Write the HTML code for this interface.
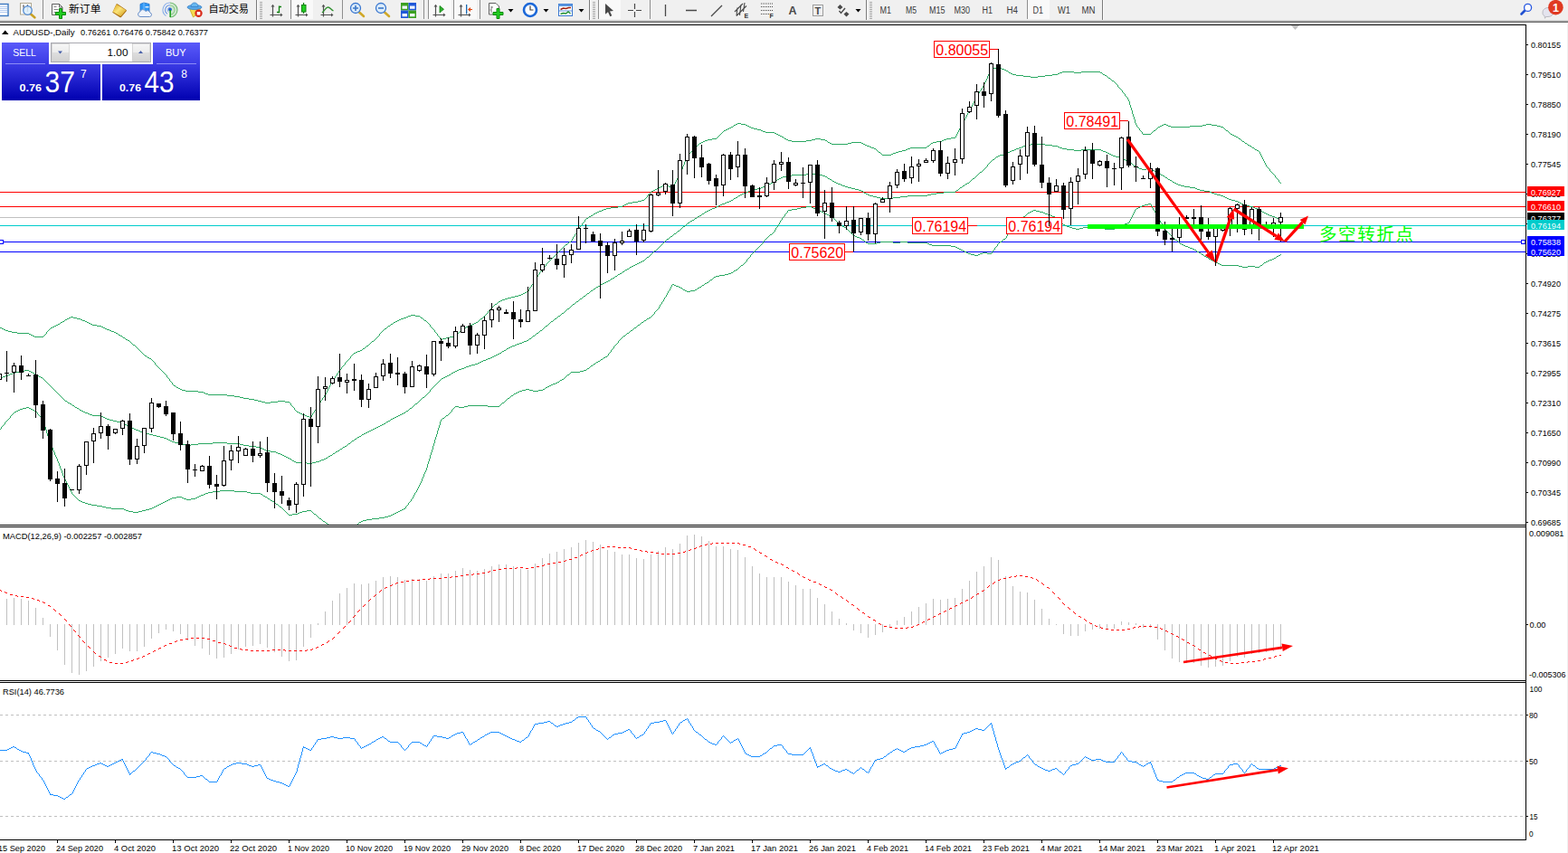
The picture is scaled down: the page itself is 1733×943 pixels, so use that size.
<!DOCTYPE html>
<html><head><meta charset="utf-8"><title>AUDUSD Daily</title>
<style>html,body{margin:0;padding:0;background:#fff;}body{width:1733px;height:943px;overflow:hidden;position:relative;font-family:"Liberation Sans",sans-serif;}</style>
</head><body>
<svg width="1733" height="943" viewBox="0 0 1733 943" style="position:absolute;left:0;top:0;font-family:'Liberation Sans',sans-serif">
<rect x="0" y="0" width="1733" height="943" fill="#fff"/>
<defs><clipPath id="cm"><rect x="0" y="28" width="1686" height="552"/></clipPath><clipPath id="c2"><rect x="0" y="583" width="1686" height="169"/></clipPath><clipPath id="c3"><rect x="0" y="755" width="1686" height="173"/></clipPath></defs>
<g clip-path="url(#cm)" shape-rendering="crispEdges">
<rect x="0" y="212" width="1686" height="1" fill="#ff0000"/>
<rect x="0" y="228" width="1686" height="1" fill="#ff0000"/>
<rect x="0" y="240" width="1686" height="1" fill="#c0c0c0"/>
<rect x="0" y="249" width="1686" height="1" fill="#00cccc"/>
<rect x="0" y="267" width="1686" height="1" fill="#0000ff"/>
<rect x="0" y="278" width="1686" height="1" fill="#0000ff"/>
<path d="M-1 418h2v1h-2zM1 417h2v1h-2zM3 416h3v1h-3zM6 415h3v1h-3zM9 414h2v1h-2zM11 413h3v1h-3zM14 412h3v1h-3zM17 411h4v1h-4zM21 410h6v1h-6zM27 409h5v1h-5zM32 410h2v1h-2zM34 411h2v1h-2zM36 412h2v1h-2zM38 413h2v1h-2zM40 414h2v1h-2zM42 415h1v1h-1zM43 416h2v1h-2zM45 417h2v1h-2zM47 418h1v1h-1zM48 419h1v1h-1zM49 420h1v1h-1zM50 421h1v1h-1zM51 422h1v1h-1zM52 423h1v1h-1zM53 424h1v1h-1zM54 425h1v1h-1zM55 426h1v1h-1zM56 427h1v1h-1zM57 428h1v1h-1zM58 429h1v1h-1zM59 430h1v1h-1zM60 431h1v1h-1zM61 432h1v1h-1zM62 433h1v1h-1zM63 434h1v1h-1zM64 435h1v1h-1zM65 436h1v1h-1zM66 437h1v1h-1zM67 438h1v1h-1zM68 439h1v1h-1zM69 440h1v1h-1zM70 441h1v1h-1zM71 442h1v1h-1zM72 443h2v1h-2zM74 444h1v1h-1zM75 445h2v1h-2zM77 446h2v1h-2zM79 447h1v1h-1zM80 448h2v1h-2zM82 449h1v1h-1zM83 450h2v1h-2zM85 451h2v1h-2zM87 452h1v1h-1zM88 453h2v1h-2zM90 454h2v1h-2zM92 455h2v1h-2zM94 456h3v1h-3zM97 457h2v1h-2zM99 458h3v1h-3zM102 459h10v1h-10zM112 460h2v1h-2zM114 461h2v1h-2zM116 462h2v1h-2zM118 463h3v1h-3zM121 464h4v1h-4zM125 465h4v1h-4zM129 466h4v1h-4zM133 467h3v1h-3zM136 468h2v1h-2zM138 469h2v1h-2zM140 470h2v1h-2zM142 471h2v1h-2zM144 472h2v1h-2zM146 473h2v1h-2zM148 474h2v1h-2zM150 475h3v1h-3zM153 476h2v1h-2zM155 477h3v1h-3zM158 478h3v1h-3zM161 479h4v1h-4zM165 480h4v1h-4zM169 481h4v1h-4zM173 482h4v1h-4zM177 483h4v1h-4zM181 484h3v1h-3zM184 485h2v1h-2zM186 486h2v1h-2zM188 487h2v1h-2zM190 488h3v1h-3zM193 489h4v1h-4zM197 490h4v1h-4zM201 491h4v1h-4zM205 492h6v1h-6zM211 491h8v1h-8zM219 490h16v1h-16zM235 489h16v1h-16zM251 490h14v1h-14zM265 491h4v1h-4zM269 492h6v1h-6zM275 493h8v1h-8zM283 494h5v1h-5zM288 495h2v1h-2zM290 496h2v1h-2zM292 497h2v1h-2zM294 498h5v1h-5zM299 499h6v1h-6zM305 500h2v1h-2zM307 501h3v1h-3zM310 502h2v1h-2zM312 503h2v1h-2zM314 504h2v1h-2zM316 505h2v1h-2zM318 506h2v1h-2zM320 507h2v1h-2zM322 508h1v1h-1zM323 509h2v1h-2zM325 510h2v1h-2zM327 511h12v1h-12zM339 512h6v1h-6zM345 511h4v1h-4zM349 510h4v1h-4zM353 509h2v1h-2zM355 508h3v1h-3zM358 507h2v1h-2zM360 506h2v1h-2zM362 505h1v1h-1zM363 504h2v1h-2zM365 503h2v1h-2zM367 502h1v1h-1zM368 501h2v1h-2zM370 500h1v1h-1zM371 499h2v1h-2zM373 498h2v1h-2zM375 497h1v1h-1zM376 496h2v1h-2zM378 495h1v1h-1zM379 494h2v1h-2zM381 493h2v1h-2zM383 492h1v1h-1zM384 491h1v1h-1zM385 490h2v1h-2zM387 489h1v1h-1zM388 488h1v1h-1zM389 487h2v1h-2zM391 486h1v1h-1zM392 485h2v1h-2zM394 484h1v1h-1zM395 483h2v1h-2zM397 482h2v1h-2zM399 481h1v1h-1zM400 480h2v1h-2zM402 479h2v1h-2zM404 478h2v1h-2zM406 477h2v1h-2zM408 476h2v1h-2zM410 475h2v1h-2zM412 474h2v1h-2zM414 473h2v1h-2zM416 472h2v1h-2zM418 471h2v1h-2zM420 470h2v1h-2zM422 469h2v1h-2zM424 468h2v1h-2zM426 467h1v1h-1zM427 466h2v1h-2zM429 465h2v1h-2zM431 464h1v1h-1zM432 463h2v1h-2zM434 462h2v1h-2zM436 461h2v1h-2zM438 460h2v1h-2zM440 459h2v1h-2zM442 458h2v1h-2zM444 457h2v1h-2zM446 456h2v1h-2zM448 455h1v1h-1zM449 454h2v1h-2zM451 453h1v1h-1zM452 452h1v1h-1zM453 451h2v1h-2zM455 450h1v1h-1zM456 449h1v1h-1zM457 448h1v1h-1zM458 447h1v1h-1zM459 446h2v1h-2zM461 445h1v1h-1zM462 444h1v1h-1zM463 443h1v1h-1zM464 442h1v1h-1zM465 441h1v1h-1zM466 440h1v1h-1zM467 439h2v1h-2zM469 438h1v1h-1zM470 437h1v1h-1zM471 436h1v1h-1zM472 435h1v1h-1zM473 434h1v1h-1zM474 433h1v1h-1zM475 431h1v2h-1zM476 430h1v1h-1zM477 429h1v1h-1zM478 428h1v1h-1zM479 427h1v1h-1zM480 426h1v1h-1zM481 425h1v1h-1zM482 424h1v1h-1zM483 423h1v1h-1zM484 422h1v1h-1zM485 421h1v1h-1zM486 420h1v1h-1zM487 419h1v1h-1zM488 418h2v1h-2zM490 417h2v1h-2zM492 416h2v1h-2zM494 415h2v1h-2zM496 414h2v1h-2zM498 413h1v1h-1zM499 412h2v1h-2zM501 411h2v1h-2zM503 410h2v1h-2zM505 409h2v1h-2zM507 408h3v1h-3zM510 407h3v1h-3zM513 406h2v1h-2zM515 405h3v1h-3zM518 404h3v1h-3zM521 403h4v1h-4zM525 402h3v1h-3zM528 401h2v1h-2zM530 400h2v1h-2zM532 399h2v1h-2zM534 398h3v1h-3zM537 397h2v1h-2zM539 396h3v1h-3zM542 395h2v1h-2zM544 394h2v1h-2zM546 393h2v1h-2zM548 392h2v1h-2zM550 391h2v1h-2zM552 390h2v1h-2zM554 389h1v1h-1zM555 388h2v1h-2zM557 387h2v1h-2zM559 386h1v1h-1zM560 385h2v1h-2zM562 384h2v1h-2zM564 383h2v1h-2zM566 382h3v1h-3zM569 381h2v1h-2zM571 380h3v1h-3zM574 379h3v1h-3zM577 378h2v1h-2zM579 377h3v1h-3zM582 376h2v1h-2zM584 375h1v1h-1zM585 374h2v1h-2zM587 373h1v1h-1zM588 372h1v1h-1zM589 371h2v1h-2zM591 370h1v1h-1zM592 369h1v1h-1zM593 368h2v1h-2zM595 367h1v1h-1zM596 366h1v1h-1zM597 365h2v1h-2zM599 364h1v1h-1zM600 363h1v1h-1zM601 362h1v1h-1zM602 361h1v1h-1zM603 360h2v1h-2zM605 359h1v1h-1zM606 358h1v1h-1zM607 357h1v1h-1zM608 356h1v1h-1zM609 355h2v1h-2zM611 354h1v1h-1zM612 353h1v1h-1zM613 352h2v1h-2zM615 351h1v1h-1zM616 350h1v1h-1zM617 349h2v1h-2zM619 348h1v1h-1zM620 347h1v1h-1zM621 346h2v1h-2zM623 345h1v1h-1zM624 344h1v1h-1zM625 343h1v1h-1zM626 342h1v1h-1zM627 341h2v1h-2zM629 340h1v1h-1zM630 339h1v1h-1zM631 338h1v1h-1zM632 337h1v1h-1zM633 336h2v1h-2zM635 335h1v1h-1zM636 334h1v1h-1zM637 333h2v1h-2zM639 332h1v1h-1zM640 331h1v1h-1zM641 330h2v1h-2zM643 329h1v1h-1zM644 328h1v1h-1zM645 327h2v1h-2zM647 326h1v1h-1zM648 325h1v1h-1zM649 324h2v1h-2zM651 323h1v1h-1zM652 322h1v1h-1zM653 321h2v1h-2zM655 320h1v1h-1zM656 319h2v1h-2zM658 318h1v1h-1zM659 317h2v1h-2zM661 316h2v1h-2zM663 315h1v1h-1zM664 314h2v1h-2zM666 313h2v1h-2zM668 312h2v1h-2zM670 311h2v1h-2zM672 310h2v1h-2zM674 309h1v1h-1zM675 308h2v1h-2zM677 307h2v1h-2zM679 306h1v1h-1zM680 305h2v1h-2zM682 304h1v1h-1zM683 303h2v1h-2zM685 302h2v1h-2zM687 301h1v1h-1zM688 300h2v1h-2zM690 299h1v1h-1zM691 298h2v1h-2zM693 297h2v1h-2zM695 296h1v1h-1zM696 295h2v1h-2zM698 294h2v1h-2zM700 293h2v1h-2zM702 292h2v1h-2zM704 291h2v1h-2zM706 290h2v1h-2zM708 289h2v1h-2zM710 288h2v1h-2zM712 287h1v1h-1zM713 286h1v1h-1zM714 285h1v1h-1zM715 284h2v1h-2zM717 283h1v1h-1zM718 282h1v1h-1zM719 281h1v1h-1zM720 280h1v1h-1zM721 279h1v1h-1zM722 278h1v1h-1zM723 277h2v1h-2zM725 276h1v1h-1zM726 275h1v1h-1zM727 274h1v1h-1zM728 273h1v1h-1zM729 272h1v1h-1zM730 271h1v1h-1zM731 270h1v1h-1zM732 269h1v1h-1zM733 268h1v1h-1zM734 267h1v1h-1zM735 266h1v1h-1zM736 265h1v1h-1zM737 264h2v1h-2zM739 263h1v1h-1zM740 262h1v1h-1zM741 261h2v1h-2zM743 260h1v1h-1zM744 259h1v1h-1zM745 258h2v1h-2zM747 257h1v1h-1zM748 256h1v1h-1zM749 255h2v1h-2zM751 254h1v1h-1zM752 253h1v1h-1zM753 252h1v1h-1zM754 251h1v1h-1zM755 250h2v1h-2zM757 249h1v1h-1zM758 248h1v1h-1zM759 247h1v1h-1zM760 246h2v1h-2zM762 245h1v1h-1zM763 244h2v1h-2zM765 243h2v1h-2zM767 242h1v1h-1zM768 241h2v1h-2zM770 240h1v1h-1zM771 239h2v1h-2zM773 238h2v1h-2zM775 237h1v1h-1zM776 236h2v1h-2zM778 235h1v1h-1zM779 234h2v1h-2zM781 233h2v1h-2zM783 232h2v1h-2zM785 231h2v1h-2zM787 230h3v1h-3zM790 229h2v1h-2zM792 228h2v1h-2zM794 227h2v1h-2zM796 226h2v1h-2zM798 225h3v1h-3zM801 224h2v1h-2zM803 223h3v1h-3zM806 222h2v1h-2zM808 221h2v1h-2zM810 220h1v1h-1zM811 219h2v1h-2zM813 218h2v1h-2zM815 217h1v1h-1zM816 216h2v1h-2zM818 215h2v1h-2zM820 214h2v1h-2zM822 213h3v1h-3zM825 212h2v1h-2zM827 211h3v1h-3zM830 210h3v1h-3zM833 209h4v1h-4zM837 208h4v1h-4zM841 207h2v1h-2zM843 206h3v1h-3zM846 205h2v1h-2zM848 204h2v1h-2zM850 203h2v1h-2zM852 202h2v1h-2zM854 201h2v1h-2zM856 200h2v1h-2zM858 199h1v1h-1zM859 198h2v1h-2zM861 197h2v1h-2zM863 196h2v1h-2zM865 195h4v1h-4zM869 194h6v1h-6zM875 193h16v1h-16zM891 192h14v1h-14zM905 193h4v1h-4zM909 194h3v1h-3zM912 195h2v1h-2zM914 196h1v1h-1zM915 197h2v1h-2zM917 198h2v1h-2zM919 199h1v1h-1zM920 200h2v1h-2zM922 201h2v1h-2zM924 202h2v1h-2zM926 203h3v1h-3zM929 204h2v1h-2zM931 205h3v1h-3zM934 206h3v1h-3zM937 207h4v1h-4zM941 208h4v1h-4zM945 209h4v1h-4zM949 210h3v1h-3zM952 211h2v1h-2zM954 212h1v1h-1zM955 213h2v1h-2zM957 214h2v1h-2zM959 215h2v1h-2zM961 216h4v1h-4zM965 217h4v1h-4zM969 218h4v1h-4zM973 219h14v1h-14zM987 218h8v1h-8zM995 217h8v1h-8zM1003 216h22v1h-22zM1025 215h4v1h-4zM1029 214h6v1h-6zM1035 213h8v1h-8zM1043 212h13v1h-13zM1056 211h1v1h-1zM1057 210h2v1h-2zM1059 209h1v1h-1zM1060 208h1v1h-1zM1061 207h2v1h-2zM1063 206h1v1h-1zM1064 205h2v1h-2zM1066 204h1v1h-1zM1067 203h2v1h-2zM1069 202h2v1h-2zM1071 201h1v1h-1zM1072 200h1v1h-1zM1073 199h1v1h-1zM1074 198h1v1h-1zM1075 197h2v1h-2zM1077 196h1v1h-1zM1078 195h1v1h-1zM1079 194h1v1h-1zM1080 193h1v1h-1zM1081 192h1v1h-1zM1082 191h1v1h-1zM1083 190h2v1h-2zM1085 189h1v1h-1zM1086 188h1v1h-1zM1087 187h1v1h-1zM1088 186h1v1h-1zM1089 185h1v1h-1zM1090 184h1v1h-1zM1091 182h1v2h-1zM1092 181h1v1h-1zM1093 180h1v1h-1zM1094 179h1v1h-1zM1095 178h1v1h-1zM1096 177h1v1h-1zM1097 176h2v1h-2zM1099 175h1v1h-1zM1100 174h1v1h-1zM1101 173h2v1h-2zM1103 172h2v1h-2zM1105 171h4v1h-4zM1109 170h3v1h-3zM1112 169h2v1h-2zM1114 168h2v1h-2zM1116 167h2v1h-2zM1118 166h3v1h-3zM1121 165h2v1h-2zM1123 164h3v1h-3zM1126 163h3v1h-3zM1129 162h2v1h-2zM1131 161h3v1h-3zM1134 160h5v1h-5zM1139 159h16v1h-16zM1155 160h8v1h-8zM1163 161h6v1h-6zM1169 162h2v1h-2zM1171 163h3v1h-3zM1174 164h5v1h-5zM1179 165h8v1h-8zM1187 166h8v1h-8zM1195 165h22v1h-22zM1217 166h2v1h-2zM1219 167h3v1h-3zM1222 168h2v1h-2zM1224 169h2v1h-2zM1226 170h2v1h-2zM1228 171h2v1h-2zM1230 172h3v1h-3zM1233 173h4v1h-4zM1237 174h3v1h-3zM1240 175h2v1h-2zM1242 176h2v1h-2zM1244 177h2v1h-2zM1246 178h2v1h-2zM1248 179h1v1h-1zM1249 180h2v1h-2zM1251 181h1v1h-1zM1252 182h1v1h-1zM1253 183h2v1h-2zM1255 184h2v1h-2zM1257 185h2v1h-2zM1259 186h3v1h-3zM1262 187h5v1h-5zM1267 186h5v1h-5zM1272 187h2v1h-2zM1274 188h2v1h-2zM1276 189h2v1h-2zM1278 190h2v1h-2zM1280 191h2v1h-2zM1282 192h1v1h-1zM1283 193h2v1h-2zM1285 194h2v1h-2zM1287 195h1v1h-1zM1288 196h2v1h-2zM1290 197h1v1h-1zM1291 198h2v1h-2zM1293 199h2v1h-2zM1295 200h1v1h-1zM1296 201h2v1h-2zM1298 202h2v1h-2zM1300 203h2v1h-2zM1302 204h3v1h-3zM1305 205h4v1h-4zM1309 206h6v1h-6zM1315 207h6v1h-6zM1321 208h2v1h-2zM1323 209h3v1h-3zM1326 210h5v1h-5zM1331 211h6v1h-6zM1337 212h2v1h-2zM1339 213h3v1h-3zM1342 214h3v1h-3zM1345 215h4v1h-4zM1349 216h3v1h-3zM1352 217h2v1h-2zM1354 218h2v1h-2zM1356 219h2v1h-2zM1358 220h3v1h-3zM1361 221h4v1h-4zM1365 222h3v1h-3zM1368 223h2v1h-2zM1370 224h2v1h-2zM1372 225h2v1h-2zM1374 226h3v1h-3zM1377 227h4v1h-4zM1381 228h4v1h-4zM1385 229h2v1h-2zM1387 230h3v1h-3zM1390 231h2v1h-2zM1392 232h2v1h-2zM1394 233h1v1h-1zM1395 234h2v1h-2zM1397 235h2v1h-2zM1399 236h2v1h-2zM1401 237h2v1h-2zM1403 238h3v1h-3zM1406 239h3v1h-3zM1409 240h2v1h-2zM1411 241h3v1h-3zM1414 242h2v1h-2z" fill="#2aa862"/>
<path d="M-1 361h1v1h-1zM0 362h2v1h-2zM2 363h2v1h-2zM4 364h2v1h-2zM6 365h3v1h-3zM9 366h4v1h-4zM13 367h6v1h-6zM19 368h13v1h-13zM32 369h2v1h-2zM34 370h2v1h-2zM36 371h2v1h-2zM38 372h10v1h-10zM48 371h1v1h-1zM49 370h1v1h-1zM50 369h1v1h-1zM51 367h1v2h-1zM52 366h1v1h-1zM53 365h1v1h-1zM54 364h1v1h-1zM55 363h1v1h-1zM56 362h2v1h-2zM58 361h2v1h-2zM60 360h2v1h-2zM62 359h2v1h-2zM64 358h2v1h-2zM66 357h1v1h-1zM67 356h2v1h-2zM69 355h2v1h-2zM71 354h1v1h-1zM72 353h2v1h-2zM74 352h2v1h-2zM76 351h2v1h-2zM78 350h3v1h-3zM81 351h4v1h-4zM85 352h4v1h-4zM89 353h2v1h-2zM91 354h3v1h-3zM94 355h2v1h-2zM96 356h2v1h-2zM98 357h2v1h-2zM100 358h2v1h-2zM102 359h5v1h-5zM107 360h5v1h-5zM112 361h2v1h-2zM114 362h2v1h-2zM116 363h2v1h-2zM118 364h3v1h-3zM121 365h2v1h-2zM123 366h3v1h-3zM126 367h2v1h-2zM128 368h2v1h-2zM130 369h1v1h-1zM131 370h2v1h-2zM133 371h2v1h-2zM135 372h1v1h-1zM136 373h2v1h-2zM138 374h1v1h-1zM139 375h2v1h-2zM141 376h2v1h-2zM143 377h1v1h-1zM144 378h1v1h-1zM145 379h1v1h-1zM146 380h1v1h-1zM147 381h2v1h-2zM149 382h1v1h-1zM150 383h1v1h-1zM151 384h1v1h-1zM152 385h1v1h-1zM153 386h1v1h-1zM154 387h1v1h-1zM155 388h1v1h-1zM156 389h1v1h-1zM157 390h1v1h-1zM158 391h1v1h-1zM159 392h1v1h-1zM160 393h2v1h-2zM162 394h1v1h-1zM163 395h2v1h-2zM165 396h2v1h-2zM167 397h1v1h-1zM168 398h1v1h-1zM169 399h1v1h-1zM170 400h1v1h-1zM171 401h1v2h-1zM172 403h1v1h-1zM173 404h1v1h-1zM174 405h1v1h-1zM175 406h1v1h-1zM176 407h1v1h-1zM177 408h1v1h-1zM178 409h1v1h-1zM179 410h1v1h-1zM180 411h1v1h-1zM181 412h1v1h-1zM182 413h1v1h-1zM183 414h1v1h-1zM184 415h1v2h-1zM185 417h1v1h-1zM186 418h1v1h-1zM187 419h1v2h-1zM188 421h1v1h-1zM189 422h1v1h-1zM190 423h1v2h-1zM191 425h1v1h-1zM192 426h2v1h-2zM194 427h1v1h-1zM195 428h2v1h-2zM197 429h2v1h-2zM199 430h2v1h-2zM201 431h4v1h-4zM205 432h14v1h-14zM219 433h6v1h-6zM225 434h2v1h-2zM227 435h3v1h-3zM230 436h21v1h-21zM251 437h8v1h-8zM259 438h6v1h-6zM265 439h4v1h-4zM269 440h6v1h-6zM275 441h6v1h-6zM281 442h4v1h-4zM285 443h4v1h-4zM289 444h4v1h-4zM293 445h6v1h-6zM299 444h8v1h-8zM307 443h8v1h-8zM315 444h5v1h-5zM320 445h1v1h-1zM321 446h1v2h-1zM322 448h1v1h-1zM323 449h1v1h-1zM324 450h1v1h-1zM325 451h1v2h-1zM326 453h1v1h-1zM327 454h1v1h-1zM328 455h2v1h-2zM330 456h2v1h-2zM332 457h2v1h-2zM334 458h3v1h-3zM337 459h2v1h-2zM339 460h3v1h-3zM342 461h2v1h-2zM344 459h1v2h-1zM345 457h1v2h-1zM346 456h1v1h-1zM347 454h1v2h-1zM348 453h1v1h-1zM349 451h1v2h-1zM350 449h1v2h-1zM351 448h1v1h-1zM352 446h1v2h-1zM353 445h1v1h-1zM354 443h1v2h-1zM355 442h1v1h-1zM356 440h1v2h-1zM357 439h1v1h-1zM358 437h1v2h-1zM359 436h1v1h-1zM360 434h1v2h-1zM361 432h1v2h-1zM362 430h1v2h-1zM363 428h1v2h-1zM364 426h1v2h-1zM365 424h1v2h-1zM366 422h1v2h-1zM367 421h1v1h-1zM368 419h1v2h-1zM369 418h1v1h-1zM370 416h1v2h-1zM371 415h1v1h-1zM372 413h1v2h-1zM373 412h1v1h-1zM374 410h1v2h-1zM375 409h1v1h-1zM376 408h1v1h-1zM377 406h1v2h-1zM378 405h1v1h-1zM379 404h1v1h-1zM380 403h1v1h-1zM381 401h1v2h-1zM382 400h1v1h-1zM383 399h1v1h-1zM384 398h1v1h-1zM385 397h1v1h-1zM386 396h1v1h-1zM387 394h1v2h-1zM388 393h1v1h-1zM389 392h1v1h-1zM390 391h1v1h-1zM391 390h2v1h-2zM393 389h2v1h-2zM395 388h3v1h-3zM398 387h2v1h-2zM400 386h1v1h-1zM401 385h2v1h-2zM403 384h1v1h-1zM404 383h1v1h-1zM405 382h2v1h-2zM407 381h1v1h-1zM408 380h1v1h-1zM409 379h1v1h-1zM410 378h1v1h-1zM411 377h2v1h-2zM413 376h1v1h-1zM414 375h1v1h-1zM415 374h1v1h-1zM416 373h1v1h-1zM417 372h1v1h-1zM418 371h1v1h-1zM419 369h1v2h-1zM420 368h1v1h-1zM421 367h1v1h-1zM422 366h1v1h-1zM423 365h1v1h-1zM424 364h1v1h-1zM425 363h2v1h-2zM427 362h1v1h-1zM428 361h1v1h-1zM429 360h2v1h-2zM431 359h1v1h-1zM432 358h2v1h-2zM434 357h1v1h-1zM435 356h2v1h-2zM437 355h2v1h-2zM439 354h2v1h-2zM441 353h2v1h-2zM443 352h3v1h-3zM446 351h3v1h-3zM449 350h2v1h-2zM451 349h3v1h-3zM454 348h5v1h-5zM459 349h5v1h-5zM464 350h1v1h-1zM465 351h2v1h-2zM467 352h1v1h-1zM468 353h1v1h-1zM469 354h2v1h-2zM471 355h1v1h-1zM472 356h1v1h-1zM473 357h1v1h-1zM474 358h1v1h-1zM475 359h1v2h-1zM476 361h1v1h-1zM477 362h1v1h-1zM478 363h1v1h-1zM479 364h1v1h-1zM480 365h1v2h-1zM481 367h1v1h-1zM482 368h1v1h-1zM483 369h1v2h-1zM484 371h1v1h-1zM485 372h1v1h-1zM486 373h1v2h-1zM487 375h2v1h-2zM489 374h4v1h-4zM493 373h4v1h-4zM497 372h4v1h-4zM501 371h3v1h-3zM504 370h1v1h-1zM505 369h1v1h-1zM506 368h1v1h-1zM507 367h1v1h-1zM508 366h1v1h-1zM509 365h1v1h-1zM510 364h1v1h-1zM511 363h2v1h-2zM513 362h2v1h-2zM515 361h3v1h-3zM518 360h2v1h-2zM520 359h2v1h-2zM522 358h2v1h-2zM524 357h2v1h-2zM526 356h2v1h-2zM528 355h1v1h-1zM529 354h1v1h-1zM530 353h1v1h-1zM531 352h2v1h-2zM533 351h1v1h-1zM534 350h1v1h-1zM535 349h1v1h-1zM536 348h1v1h-1zM537 347h1v1h-1zM538 346h1v1h-1zM539 344h1v2h-1zM540 343h1v1h-1zM541 342h1v1h-1zM542 341h1v1h-1zM543 340h1v1h-1zM544 339h1v1h-1zM545 338h1v1h-1zM546 337h1v1h-1zM547 336h2v1h-2zM549 335h1v1h-1zM550 334h1v1h-1zM551 333h2v1h-2zM553 332h2v1h-2zM555 331h3v1h-3zM558 330h3v1h-3zM561 329h4v1h-4zM565 328h4v1h-4zM569 327h4v1h-4zM573 326h3v1h-3zM576 325h2v1h-2zM578 324h2v1h-2zM580 323h2v1h-2zM582 322h2v1h-2zM584 320h1v2h-1zM585 318h1v2h-1zM586 317h1v1h-1zM587 315h1v2h-1zM588 314h1v1h-1zM589 312h1v2h-1zM590 310h1v2h-1zM591 309h1v1h-1zM592 307h1v2h-1zM593 306h1v1h-1zM594 304h1v2h-1zM595 303h1v1h-1zM596 301h1v2h-1zM597 300h1v1h-1zM598 298h1v2h-1zM599 297h1v1h-1zM600 296h1v1h-1zM601 295h1v1h-1zM602 294h1v1h-1zM603 292h1v2h-1zM604 291h1v1h-1zM605 290h1v1h-1zM606 289h1v1h-1zM607 288h1v1h-1zM608 287h1v1h-1zM609 286h1v1h-1zM610 285h1v1h-1zM611 284h1v1h-1zM612 283h1v1h-1zM613 282h1v1h-1zM614 281h1v1h-1zM615 280h1v1h-1zM616 279h1v1h-1zM617 278h1v1h-1zM618 277h1v1h-1zM619 276h1v1h-1zM620 275h1v1h-1zM621 274h1v1h-1zM622 273h1v1h-1zM623 272h1v1h-1zM624 271h1v1h-1zM625 270h2v1h-2zM627 269h1v1h-1zM628 268h1v1h-1zM629 267h2v1h-2zM631 266h1v1h-1zM632 264h1v2h-1zM633 262h1v2h-1zM634 261h1v1h-1zM635 259h1v2h-1zM636 258h1v1h-1zM637 256h1v2h-1zM638 254h1v2h-1zM639 253h1v1h-1zM640 251h1v2h-1zM641 250h1v1h-1zM642 249h1v1h-1zM643 247h1v2h-1zM644 246h1v1h-1zM645 245h1v1h-1zM646 243h1v2h-1zM647 242h1v1h-1zM648 241h2v1h-2zM650 240h1v1h-1zM651 239h2v1h-2zM653 238h2v1h-2zM655 237h1v1h-1zM656 236h2v1h-2zM658 235h2v1h-2zM660 234h2v1h-2zM662 233h3v1h-3zM665 232h2v1h-2zM667 231h3v1h-3zM670 230h5v1h-5zM675 229h8v1h-8zM683 228h5v1h-5zM688 227h2v1h-2zM690 226h2v1h-2zM692 225h2v1h-2zM694 224h5v1h-5zM699 223h6v1h-6zM705 222h4v1h-4zM709 221h3v1h-3zM712 220h1v1h-1zM713 219h1v1h-1zM714 218h1v1h-1zM715 216h1v2h-1zM716 215h1v1h-1zM717 214h1v1h-1zM718 213h1v1h-1zM719 212h1v1h-1zM720 211h2v1h-2zM722 210h2v1h-2zM724 209h2v1h-2zM726 208h2v1h-2zM728 207h2v1h-2zM730 206h2v1h-2zM732 205h2v1h-2zM734 204h3v1h-3zM737 205h2v1h-2zM739 206h3v1h-3zM742 207h2v1h-2zM744 205h1v2h-1zM745 203h1v2h-1zM746 201h1v2h-1zM747 199h1v2h-1zM748 197h1v2h-1zM749 195h1v2h-1zM750 193h1v2h-1zM751 191h1v2h-1zM752 189h1v2h-1zM753 187h1v2h-1zM754 184h1v3h-1zM755 182h1v2h-1zM756 179h1v3h-1zM757 177h1v2h-1zM758 175h1v2h-1zM759 173h1v2h-1zM760 172h1v1h-1zM761 170h1v2h-1zM762 169h1v1h-1zM763 168h1v1h-1zM764 167h1v1h-1zM765 165h1v2h-1zM766 164h1v1h-1zM767 163h1v1h-1zM768 162h1v1h-1zM769 161h2v1h-2zM771 160h1v1h-1zM772 159h1v1h-1zM773 158h2v1h-2zM775 157h2v1h-2zM777 156h2v1h-2zM779 155h3v1h-3zM782 154h5v1h-5zM787 153h5v1h-5zM792 152h1v1h-1zM793 151h1v1h-1zM794 150h1v1h-1zM795 149h1v1h-1zM796 148h1v1h-1zM797 147h1v1h-1zM798 146h1v1h-1zM799 145h1v1h-1zM800 144h2v1h-2zM802 143h2v1h-2zM804 142h2v1h-2zM806 141h2v1h-2zM808 140h2v1h-2zM810 139h1v1h-1zM811 138h2v1h-2zM813 137h2v1h-2zM815 136h4v1h-4zM819 137h5v1h-5zM824 138h2v1h-2zM826 139h2v1h-2zM828 140h2v1h-2zM830 141h3v1h-3zM833 142h4v1h-4zM837 143h4v1h-4zM841 144h2v1h-2zM843 145h3v1h-3zM846 146h10v1h-10zM856 147h2v1h-2zM858 148h2v1h-2zM860 149h2v1h-2zM862 150h2v1h-2zM864 151h2v1h-2zM866 152h1v1h-1zM867 153h2v1h-2zM869 154h2v1h-2zM871 155h4v1h-4zM875 156h16v1h-16zM891 155h6v1h-6zM897 154h4v1h-4zM901 153h6v1h-6zM907 154h5v1h-5zM912 155h2v1h-2zM914 156h1v1h-1zM915 157h2v1h-2zM917 158h2v1h-2zM919 159h18v1h-18zM937 158h4v1h-4zM941 157h11v1h-11zM952 158h2v1h-2zM954 159h2v1h-2zM956 160h2v1h-2zM958 161h3v1h-3zM961 162h2v1h-2zM963 163h3v1h-3zM966 164h2v1h-2zM968 165h1v1h-1zM969 166h1v1h-1zM970 167h1v1h-1zM971 168h2v1h-2zM973 169h1v1h-1zM974 170h1v1h-1zM975 171h10v1h-10zM985 170h2v1h-2zM987 169h3v1h-3zM990 168h3v1h-3zM993 167h4v1h-4zM997 166h4v1h-4zM1001 165h2v1h-2zM1003 164h3v1h-3zM1006 163h18v1h-18zM1024 162h1v1h-1zM1025 161h2v1h-2zM1027 160h1v1h-1zM1028 159h1v1h-1zM1029 158h2v1h-2zM1031 157h4v1h-4zM1035 156h6v1h-6zM1041 155h2v1h-2zM1043 154h3v1h-3zM1046 153h5v1h-5zM1051 152h5v1h-5zM1056 150h1v2h-1zM1057 148h1v2h-1zM1058 146h1v2h-1zM1059 144h1v2h-1zM1060 142h1v2h-1zM1061 140h1v2h-1zM1062 138h1v2h-1zM1063 137h1v1h-1zM1064 135h1v2h-1zM1065 133h1v2h-1zM1066 131h1v2h-1zM1067 129h1v2h-1zM1068 127h1v2h-1zM1069 125h1v2h-1zM1070 123h1v2h-1zM1071 122h1v1h-1zM1072 120h1v2h-1zM1073 118h1v2h-1zM1074 116h1v2h-1zM1075 114h1v2h-1zM1076 112h1v2h-1zM1077 110h1v2h-1zM1078 108h1v2h-1zM1079 106h1v2h-1zM1080 104h1v2h-1zM1081 103h1v1h-1zM1082 101h1v2h-1zM1083 100h1v1h-1zM1084 98h1v2h-1zM1085 97h1v1h-1zM1086 95h1v2h-1zM1087 93h1v2h-1zM1088 91h1v2h-1zM1089 89h1v2h-1zM1090 87h1v2h-1zM1091 84h1v3h-1zM1092 82h1v2h-1zM1093 80h1v2h-1zM1094 78h1v2h-1zM1095 76h1v2h-1zM1096 76h1v1h-1zM1097 75h4v1h-4zM1101 74h4v1h-4zM1105 75h2v1h-2zM1107 76h3v1h-3zM1110 77h2v1h-2zM1112 78h2v1h-2zM1114 79h1v1h-1zM1115 80h2v1h-2zM1117 81h2v1h-2zM1119 82h4v1h-4zM1123 83h8v1h-8zM1131 84h8v1h-8zM1139 85h8v1h-8zM1147 84h8v1h-8zM1155 83h8v1h-8zM1163 82h6v1h-6zM1169 81h2v1h-2zM1171 80h3v1h-3zM1174 79h13v1h-13zM1187 80h8v1h-8zM1195 79h21v1h-21zM1216 80h2v1h-2zM1218 81h1v1h-1zM1219 82h2v1h-2zM1221 83h2v1h-2zM1223 84h1v1h-1zM1224 85h1v1h-1zM1225 86h2v1h-2zM1227 87h1v1h-1zM1228 88h1v1h-1zM1229 89h2v1h-2zM1231 90h1v1h-1zM1232 91h1v1h-1zM1233 92h1v1h-1zM1234 93h1v1h-1zM1235 94h1v2h-1zM1236 96h1v1h-1zM1237 97h1v1h-1zM1238 98h1v1h-1zM1239 99h1v1h-1zM1240 100h1v2h-1zM1241 102h1v1h-1zM1242 103h1v1h-1zM1243 104h1v2h-1zM1244 106h1v1h-1zM1245 107h1v1h-1zM1246 108h1v2h-1zM1247 110h1v2h-1zM1248 112h1v4h-1zM1249 116h1v3h-1zM1250 119h1v3h-1zM1251 122h1v4h-1zM1252 126h1v3h-1zM1253 129h1v3h-1zM1254 132h1v4h-1zM1255 136h1v2h-1zM1256 138h1v2h-1zM1257 140h1v1h-1zM1258 141h1v1h-1zM1259 142h1v2h-1zM1260 144h1v1h-1zM1261 145h1v1h-1zM1262 146h1v2h-1zM1263 148h9v1h-9zM1272 147h1v1h-1zM1273 146h1v1h-1zM1274 145h1v1h-1zM1275 144h2v1h-2zM1277 143h1v1h-1zM1278 142h1v1h-1zM1279 141h1v1h-1zM1280 140h2v1h-2zM1282 139h2v1h-2zM1284 138h2v1h-2zM1286 137h3v1h-3zM1289 138h2v1h-2zM1291 139h3v1h-3zM1294 140h21v1h-21zM1315 139h14v1h-14zM1329 138h4v1h-4zM1333 137h6v1h-6zM1339 138h6v1h-6zM1345 139h4v1h-4zM1349 140h3v1h-3zM1352 141h1v1h-1zM1353 142h1v1h-1zM1354 143h1v1h-1zM1355 144h2v1h-2zM1357 145h1v1h-1zM1358 146h1v1h-1zM1359 147h1v1h-1zM1360 148h2v1h-2zM1362 149h2v1h-2zM1364 150h2v1h-2zM1366 151h2v1h-2zM1368 152h1v1h-1zM1369 153h2v1h-2zM1371 154h1v1h-1zM1372 155h1v1h-1zM1373 156h2v1h-2zM1375 157h1v1h-1zM1376 158h2v1h-2zM1378 159h1v1h-1zM1379 160h2v1h-2zM1381 161h2v1h-2zM1383 162h1v1h-1zM1384 163h2v1h-2zM1386 164h1v1h-1zM1387 165h2v1h-2zM1389 166h2v1h-2zM1391 167h1v1h-1zM1392 168h1v2h-1zM1393 170h1v2h-1zM1394 172h1v2h-1zM1395 174h1v2h-1zM1396 176h1v2h-1zM1397 178h1v2h-1zM1398 180h1v2h-1zM1399 182h1v2h-1zM1400 184h1v1h-1zM1401 185h1v1h-1zM1402 186h1v1h-1zM1403 187h1v2h-1zM1404 189h1v1h-1zM1405 190h1v1h-1zM1406 191h1v1h-1zM1407 192h1v1h-1zM1408 193h1v1h-1zM1409 194h1v2h-1zM1410 196h1v1h-1zM1411 197h1v1h-1zM1412 198h1v1h-1zM1413 199h1v2h-1zM1414 201h1v1h-1zM1415 202h1v1h-1z" fill="#2aa862"/>
<path d="M-1 475h1v1h-1zM0 474h1v1h-1zM1 472h1v2h-1zM2 471h1v1h-1zM3 470h1v1h-1zM4 469h1v1h-1zM5 467h1v2h-1zM6 466h1v1h-1zM7 465h1v1h-1zM8 464h1v1h-1zM9 463h1v1h-1zM10 462h1v1h-1zM11 460h1v2h-1zM12 459h1v1h-1zM13 458h1v1h-1zM14 457h1v1h-1zM15 456h1v1h-1zM16 455h2v1h-2zM18 454h2v1h-2zM20 453h2v1h-2zM22 452h3v1h-3zM25 451h4v1h-4zM29 450h3v1h-3zM32 451h2v1h-2zM34 452h2v1h-2zM36 453h2v1h-2zM38 454h2v1h-2zM40 455h1v1h-1zM41 456h1v2h-1zM42 458h1v1h-1zM43 459h1v1h-1zM44 460h1v1h-1zM45 461h1v2h-1zM46 463h1v1h-1zM47 464h1v2h-1zM48 466h1v3h-1zM49 469h1v3h-1zM50 472h1v3h-1zM51 475h1v4h-1zM52 479h1v3h-1zM53 482h1v3h-1zM54 485h1v3h-1zM55 488h1v3h-1zM56 491h1v2h-1zM57 493h1v2h-1zM58 495h1v3h-1zM59 498h1v2h-1zM60 500h1v3h-1zM61 503h1v2h-1zM62 505h1v2h-1zM63 507h1v3h-1zM64 510h1v2h-1zM65 512h1v3h-1zM66 515h1v3h-1zM67 518h1v2h-1zM68 520h1v3h-1zM69 523h1v3h-1zM70 526h1v2h-1zM71 528h1v2h-1zM72 530h1v2h-1zM73 532h1v2h-1zM74 534h1v2h-1zM75 536h1v2h-1zM76 538h1v2h-1zM77 540h1v2h-1zM78 542h1v2h-1zM79 544h1v2h-1zM80 546h1v1h-1zM81 547h1v1h-1zM82 548h1v1h-1zM83 549h1v1h-1zM84 550h1v1h-1zM85 551h1v1h-1zM86 552h1v1h-1zM87 553h2v1h-2zM89 554h2v1h-2zM91 555h3v1h-3zM94 556h3v1h-3zM97 557h4v1h-4zM101 558h6v1h-6zM107 559h6v1h-6zM113 560h4v1h-4zM117 561h6v1h-6zM123 562h14v1h-14zM137 563h2v1h-2zM139 564h3v1h-3zM142 565h5v1h-5zM147 566h6v1h-6zM153 565h4v1h-4zM157 564h4v1h-4zM161 563h4v1h-4zM165 562h3v1h-3zM168 561h2v1h-2zM170 560h2v1h-2zM172 559h2v1h-2zM174 558h2v1h-2zM176 557h2v1h-2zM178 556h2v1h-2zM180 555h2v1h-2zM182 554h2v1h-2zM184 553h2v1h-2zM186 552h2v1h-2zM188 551h2v1h-2zM190 550h5v1h-5zM195 549h6v1h-6zM201 550h2v1h-2zM203 551h3v1h-3zM206 552h5v1h-5zM211 551h5v1h-5zM216 550h2v1h-2zM218 549h2v1h-2zM220 548h2v1h-2zM222 547h3v1h-3zM225 546h2v1h-2zM227 545h3v1h-3zM230 544h5v1h-5zM235 543h8v1h-8zM243 542h16v1h-16zM259 543h14v1h-14zM273 544h4v1h-4zM277 545h11v1h-11zM288 546h2v1h-2zM290 547h1v1h-1zM291 548h2v1h-2zM293 549h2v1h-2zM295 550h1v1h-1zM296 551h2v1h-2zM298 552h1v1h-1zM299 553h2v1h-2zM301 554h2v1h-2zM303 555h1v1h-1zM304 556h1v1h-1zM305 557h2v1h-2zM307 558h1v1h-1zM308 559h1v1h-1zM309 560h2v1h-2zM311 561h1v1h-1zM312 562h1v1h-1zM313 563h1v1h-1zM314 564h1v1h-1zM315 565h1v1h-1zM316 566h1v1h-1zM317 567h1v1h-1zM318 568h1v1h-1zM319 569h4v1h-4zM323 568h6v1h-6zM329 567h2v1h-2zM331 566h3v1h-3zM334 565h5v1h-5zM339 564h5v1h-5zM344 565h1v1h-1zM345 566h1v1h-1zM346 567h1v1h-1zM347 568h2v1h-2zM349 569h1v1h-1zM350 570h1v1h-1zM351 571h1v1h-1zM352 572h1v1h-1zM353 573h2v1h-2zM355 574h1v1h-1zM356 575h1v1h-1zM357 576h2v1h-2zM359 577h1v1h-1zM360 578h2v1h-2zM362 579h1v1h-1zM363 580h2v1h-2zM365 581h2v1h-2zM367 582h2v1h-2zM369 583h4v1h-4zM373 584h6v1h-6zM379 585h6v1h-6zM385 584h2v1h-2zM387 583h3v1h-3zM390 582h2v1h-2zM392 581h1v1h-1zM393 580h2v1h-2zM395 579h1v1h-1zM396 578h1v1h-1zM397 577h2v1h-2zM399 576h2v1h-2zM401 575h4v1h-4zM405 574h6v1h-6zM411 573h8v1h-8zM419 572h6v1h-6zM425 571h4v1h-4zM429 570h3v1h-3zM432 569h2v1h-2zM434 568h2v1h-2zM436 567h2v1h-2zM438 566h2v1h-2zM440 565h2v1h-2zM442 564h2v1h-2zM444 563h2v1h-2zM446 562h2v1h-2zM448 560h1v2h-1zM449 559h1v1h-1zM450 558h1v1h-1zM451 556h1v2h-1zM452 555h1v1h-1zM453 554h1v1h-1zM454 552h1v2h-1zM455 551h1v1h-1zM456 549h1v2h-1zM457 547h1v2h-1zM458 545h1v2h-1zM459 544h1v1h-1zM460 542h1v2h-1zM461 540h1v2h-1zM462 538h1v2h-1zM463 536h1v2h-1zM464 534h1v2h-1zM465 532h1v2h-1zM466 529h1v3h-1zM467 527h1v2h-1zM468 524h1v3h-1zM469 522h1v2h-1zM470 520h1v2h-1zM471 517h1v3h-1zM472 513h1v4h-1zM473 510h1v3h-1zM474 507h1v3h-1zM475 503h1v4h-1zM476 500h1v3h-1zM477 497h1v3h-1zM478 493h1v4h-1zM479 490h1v3h-1zM480 486h1v4h-1zM481 483h1v3h-1zM482 480h1v3h-1zM483 476h1v4h-1zM484 473h1v3h-1zM485 470h1v3h-1zM486 466h1v4h-1zM487 464h1v2h-1zM488 463h1v1h-1zM489 462h2v1h-2zM491 461h1v1h-1zM492 460h1v1h-1zM493 459h2v1h-2zM495 458h1v1h-1zM496 457h1v1h-1zM497 456h1v1h-1zM498 455h1v1h-1zM499 453h1v2h-1zM500 452h1v1h-1zM501 451h1v1h-1zM502 450h1v1h-1zM503 449h4v1h-4zM507 450h6v1h-6zM513 449h4v1h-4zM517 448h22v1h-22zM539 449h13v1h-13zM552 448h1v1h-1zM553 447h1v1h-1zM554 446h1v1h-1zM555 445h2v1h-2zM557 444h1v1h-1zM558 443h1v1h-1zM559 442h1v1h-1zM560 441h1v1h-1zM561 440h2v1h-2zM563 439h1v1h-1zM564 438h1v1h-1zM565 437h2v1h-2zM567 436h1v1h-1zM568 435h2v1h-2zM570 434h2v1h-2zM572 433h2v1h-2zM574 432h3v1h-3zM577 431h4v1h-4zM581 430h4v1h-4zM585 431h4v1h-4zM589 432h6v1h-6zM595 431h5v1h-5zM600 430h2v1h-2zM602 429h1v1h-1zM603 428h2v1h-2zM605 427h2v1h-2zM607 426h2v1h-2zM609 425h2v1h-2zM611 424h3v1h-3zM614 423h2v1h-2zM616 422h2v1h-2zM618 421h1v1h-1zM619 420h2v1h-2zM621 419h2v1h-2zM623 418h1v1h-1zM624 417h1v1h-1zM625 416h1v1h-1zM626 415h1v1h-1zM627 414h2v1h-2zM629 413h1v1h-1zM630 412h1v1h-1zM631 411h10v1h-10zM641 410h4v1h-4zM645 409h3v1h-3zM648 408h1v1h-1zM649 407h2v1h-2zM651 406h1v1h-1zM652 405h1v1h-1zM653 404h2v1h-2zM655 403h1v1h-1zM656 402h2v1h-2zM658 401h1v1h-1zM659 400h2v1h-2zM661 399h2v1h-2zM663 398h1v1h-1zM664 397h2v1h-2zM666 396h1v1h-1zM667 395h2v1h-2zM669 394h2v1h-2zM671 393h1v1h-1zM672 391h1v2h-1zM673 390h1v1h-1zM674 389h1v1h-1zM675 387h1v2h-1zM676 386h1v1h-1zM677 385h1v1h-1zM678 383h1v2h-1zM679 382h1v1h-1zM680 381h1v1h-1zM681 380h1v1h-1zM682 379h1v1h-1zM683 377h1v2h-1zM684 376h1v1h-1zM685 375h1v1h-1zM686 374h1v1h-1zM687 373h1v1h-1zM688 372h1v1h-1zM689 371h2v1h-2zM691 370h1v1h-1zM692 369h1v1h-1zM693 368h2v1h-2zM695 367h1v1h-1zM696 366h1v1h-1zM697 365h2v1h-2zM699 364h1v1h-1zM700 363h1v1h-1zM701 362h2v1h-2zM703 361h1v1h-1zM704 360h1v1h-1zM705 359h2v1h-2zM707 358h1v1h-1zM708 357h1v1h-1zM709 356h2v1h-2zM711 355h1v1h-1zM712 354h2v1h-2zM714 353h1v1h-1zM715 352h2v1h-2zM717 351h2v1h-2zM719 350h1v1h-1zM720 349h1v1h-1zM721 348h1v1h-1zM722 347h1v1h-1zM723 345h1v2h-1zM724 344h1v1h-1zM725 343h1v1h-1zM726 342h1v1h-1zM727 341h1v1h-1zM728 339h1v2h-1zM729 337h1v2h-1zM730 336h1v1h-1zM731 334h1v2h-1zM732 333h1v1h-1zM733 331h1v2h-1zM734 329h1v2h-1zM735 328h1v1h-1zM736 326h1v2h-1zM737 324h1v2h-1zM738 322h1v2h-1zM739 321h1v1h-1zM740 319h1v2h-1zM741 317h1v2h-1zM742 315h1v2h-1zM743 314h2v1h-2zM745 315h2v1h-2zM747 316h3v1h-3zM750 317h2v1h-2zM752 318h2v1h-2zM754 319h1v1h-1zM755 320h2v1h-2zM757 321h2v1h-2zM759 322h4v1h-4zM763 321h5v1h-5zM768 320h2v1h-2zM770 319h1v1h-1zM771 318h2v1h-2zM773 317h2v1h-2zM775 316h1v1h-1zM776 315h2v1h-2zM778 314h1v1h-1zM779 313h2v1h-2zM781 312h2v1h-2zM783 311h1v1h-1zM784 310h1v1h-1zM785 309h2v1h-2zM787 308h1v1h-1zM788 307h1v1h-1zM789 306h2v1h-2zM791 305h4v1h-4zM795 304h6v1h-6zM801 303h4v1h-4zM805 302h3v1h-3zM808 301h2v1h-2zM810 300h1v1h-1zM811 299h2v1h-2zM813 298h2v1h-2zM815 297h1v1h-1zM816 296h1v1h-1zM817 295h1v1h-1zM818 294h1v1h-1zM819 293h2v1h-2zM821 292h1v1h-1zM822 291h1v1h-1zM823 290h1v1h-1zM824 289h1v1h-1zM825 287h1v2h-1zM826 286h1v1h-1zM827 285h1v1h-1zM828 284h1v1h-1zM829 282h1v2h-1zM830 281h1v1h-1zM831 280h1v1h-1zM832 279h1v1h-1zM833 278h1v1h-1zM834 277h1v1h-1zM835 276h1v1h-1zM836 275h1v1h-1zM837 274h1v1h-1zM838 273h1v1h-1zM839 272h1v1h-1zM840 271h1v1h-1zM841 270h1v1h-1zM842 269h1v1h-1zM843 267h1v2h-1zM844 266h1v1h-1zM845 265h1v1h-1zM846 264h1v1h-1zM847 263h1v1h-1zM848 262h1v1h-1zM849 261h1v1h-1zM850 260h1v1h-1zM851 259h2v1h-2zM853 258h1v1h-1zM854 257h1v1h-1zM855 256h1v1h-1zM856 254h1v2h-1zM857 252h1v2h-1zM858 251h1v1h-1zM859 249h1v2h-1zM860 248h1v1h-1zM861 246h1v2h-1zM862 244h1v2h-1zM863 243h1v1h-1zM864 241h1v2h-1zM865 240h1v1h-1zM866 239h1v1h-1zM867 237h1v2h-1zM868 236h1v1h-1zM869 235h1v1h-1zM870 233h1v2h-1zM871 232h4v1h-4zM875 231h6v1h-6zM881 230h4v1h-4zM885 229h6v1h-6zM891 228h6v1h-6zM897 229h2v1h-2zM899 230h3v1h-3zM902 231h2v1h-2zM904 232h2v1h-2zM906 233h2v1h-2zM908 234h2v1h-2zM910 235h2v1h-2zM912 236h2v1h-2zM914 237h2v1h-2zM916 238h2v1h-2zM918 239h2v1h-2zM920 240h1v1h-1zM921 241h1v1h-1zM922 242h1v1h-1zM923 243h1v1h-1zM924 244h1v1h-1zM925 245h1v1h-1zM926 246h1v1h-1zM927 247h1v1h-1zM928 248h2v1h-2zM930 249h1v1h-1zM931 250h2v1h-2zM933 251h2v1h-2zM935 252h1v1h-1zM936 253h1v1h-1zM937 254h1v1h-1zM938 255h1v1h-1zM939 256h1v1h-1zM940 257h1v1h-1zM941 258h1v1h-1zM942 259h1v1h-1zM943 260h2v1h-2zM945 261h2v1h-2zM947 262h3v1h-3zM950 263h2v1h-2zM952 264h1v1h-1zM953 265h2v1h-2zM955 266h1v1h-1zM956 267h1v1h-1zM957 268h2v1h-2zM959 269h10v1h-10zM969 268h4v1h-4zM973 267h14v1h-14zM987 268h8v1h-8zM995 267h8v1h-8zM1003 268h22v1h-22zM1025 269h2v1h-2zM1027 270h3v1h-3zM1030 271h21v1h-21zM1051 272h5v1h-5zM1056 273h2v1h-2zM1058 274h2v1h-2zM1060 275h2v1h-2zM1062 276h2v1h-2zM1064 277h2v1h-2zM1066 278h2v1h-2zM1068 279h2v1h-2zM1070 280h3v1h-3zM1073 281h4v1h-4zM1077 282h4v1h-4zM1081 281h2v1h-2zM1083 280h3v1h-3zM1086 279h5v1h-5zM1091 280h5v1h-5zM1096 278h1v2h-1zM1097 277h1v1h-1zM1098 276h1v1h-1zM1099 274h1v2h-1zM1100 273h1v1h-1zM1101 272h1v1h-1zM1102 270h1v2h-1zM1103 269h1v1h-1zM1104 268h1v1h-1zM1105 267h2v1h-2zM1107 266h1v1h-1zM1108 265h1v1h-1zM1109 264h2v1h-2zM1111 263h1v1h-1zM1112 261h1v2h-1zM1113 259h1v2h-1zM1114 258h1v1h-1zM1115 256h1v2h-1zM1116 255h1v1h-1zM1117 253h1v2h-1zM1118 251h1v2h-1zM1119 250h1v1h-1zM1120 249h1v1h-1zM1121 248h1v1h-1zM1122 247h1v1h-1zM1123 246h2v1h-2zM1125 245h1v1h-1zM1126 244h1v1h-1zM1127 243h1v1h-1zM1128 242h1v1h-1zM1129 241h1v1h-1zM1130 240h1v1h-1zM1131 239h2v1h-2zM1133 238h1v1h-1zM1134 237h1v1h-1zM1135 236h1v1h-1zM1136 235h2v1h-2zM1138 234h2v1h-2zM1140 233h2v1h-2zM1142 232h3v1h-3zM1145 233h4v1h-4zM1149 234h4v1h-4zM1153 235h2v1h-2zM1155 236h3v1h-3zM1158 237h3v1h-3zM1161 238h2v1h-2zM1163 239h3v1h-3zM1166 240h2v1h-2zM1168 241h1v1h-1zM1169 242h1v1h-1zM1170 243h1v1h-1zM1171 244h1v1h-1zM1172 245h1v1h-1zM1173 246h1v1h-1zM1174 247h1v1h-1zM1175 248h2v1h-2zM1177 249h2v1h-2zM1179 250h3v1h-3zM1182 251h3v1h-3zM1185 252h4v1h-4zM1189 253h4v1h-4zM1193 252h4v1h-4zM1197 251h20v1h-20zM1217 252h4v1h-4zM1221 253h11v1h-11zM1232 252h2v1h-2zM1234 251h2v1h-2zM1236 250h2v1h-2zM1238 249h3v1h-3zM1241 248h2v1h-2zM1243 247h3v1h-3zM1246 246h2v1h-2zM1248 244h1v2h-1zM1249 242h1v2h-1zM1250 240h1v2h-1zM1251 238h1v2h-1zM1252 236h1v2h-1zM1253 234h1v2h-1zM1254 232h1v2h-1zM1255 231h1v1h-1zM1256 230h2v1h-2zM1258 229h2v1h-2zM1260 228h2v1h-2zM1262 227h3v1h-3zM1265 226h4v1h-4zM1269 225h3v1h-3zM1272 226h1v2h-1zM1273 228h1v2h-1zM1274 230h1v2h-1zM1275 232h1v1h-1zM1276 233h1v2h-1zM1277 235h1v2h-1zM1278 237h1v2h-1zM1279 239h1v1h-1zM1280 240h1v2h-1zM1281 242h1v2h-1zM1282 244h1v2h-1zM1283 246h1v1h-1zM1284 247h1v2h-1zM1285 249h1v2h-1zM1286 251h1v2h-1zM1287 253h1v1h-1zM1288 254h1v1h-1zM1289 255h1v1h-1zM1290 256h1v1h-1zM1291 257h1v1h-1zM1292 258h1v1h-1zM1293 259h1v1h-1zM1294 260h1v1h-1zM1295 261h1v1h-1zM1296 262h1v1h-1zM1297 263h1v1h-1zM1298 264h1v1h-1zM1299 265h2v1h-2zM1301 266h1v1h-1zM1302 267h1v1h-1zM1303 268h1v1h-1zM1304 269h2v1h-2zM1306 270h2v1h-2zM1308 271h2v1h-2zM1310 272h3v1h-3zM1313 273h2v1h-2zM1315 274h3v1h-3zM1318 275h2v1h-2zM1320 276h2v1h-2zM1322 277h1v1h-1zM1323 278h2v1h-2zM1325 279h2v1h-2zM1327 280h1v1h-1zM1328 281h2v1h-2zM1330 282h1v1h-1zM1331 283h2v1h-2zM1333 284h2v1h-2zM1335 285h1v1h-1zM1336 286h2v1h-2zM1338 287h2v1h-2zM1340 288h2v1h-2zM1342 289h2v1h-2zM1344 290h2v1h-2zM1346 291h2v1h-2zM1348 292h2v1h-2zM1350 293h19v1h-19zM1369 294h4v1h-4zM1373 295h6v1h-6zM1379 294h8v1h-8zM1387 295h5v1h-5zM1392 294h1v1h-1zM1393 293h2v1h-2zM1395 292h1v1h-1zM1396 291h1v1h-1zM1397 290h2v1h-2zM1399 289h2v1h-2zM1401 288h2v1h-2zM1403 287h3v1h-3zM1406 286h2v1h-2zM1408 285h2v1h-2zM1410 284h1v1h-1zM1411 283h2v1h-2zM1413 282h2v1h-2zM1415 281h1v1h-1z" fill="#2aa862"/>
</g><g clip-path="url(#cm)">
<rect x="1032.5" y="45.5" width="61" height="18" fill="#fff" stroke="#ff0000" stroke-width="1" shape-rendering="crispEdges"/>
<text x="1034.3" y="61.4" font-size="17.2" fill="#ff0000" textLength="57.8" lengthAdjust="spacingAndGlyphs">0.80055</text>
<rect shape-rendering="crispEdges" x="1094" y="54" width="9" height="1" fill="#f00" shape-rendering="crispEdges"/>
<rect x="1176.5" y="124.5" width="61" height="18" fill="#fff" stroke="#ff0000" stroke-width="1" shape-rendering="crispEdges"/>
<text x="1178.3" y="140.4" font-size="17.2" fill="#ff0000" textLength="57.8" lengthAdjust="spacingAndGlyphs">0.78491</text>
<rect shape-rendering="crispEdges" x="1238" y="133" width="9" height="1" fill="#f00" shape-rendering="crispEdges"/>
<rect x="872.5" y="269.5" width="61" height="18" fill="#fff" stroke="#ff0000" stroke-width="1" shape-rendering="crispEdges"/>
<text x="874.3" y="285.4" font-size="17.2" fill="#ff0000" textLength="57.8" lengthAdjust="spacingAndGlyphs">0.75620</text>
<rect shape-rendering="crispEdges" x="934" y="278" width="9" height="1" fill="#f00" shape-rendering="crispEdges"/>
<rect x="1008.5" y="240.5" width="61" height="18" fill="#fff" stroke="#ff0000" stroke-width="1" shape-rendering="crispEdges"/>
<text x="1010.3" y="256.4" font-size="17.2" fill="#ff0000" textLength="57.8" lengthAdjust="spacingAndGlyphs">0.76194</text>
<rect shape-rendering="crispEdges" x="1070" y="249" width="10" height="1" fill="#f00" shape-rendering="crispEdges"/>
<rect x="1112.5" y="240.5" width="61" height="18" fill="#fff" stroke="#ff0000" stroke-width="1" shape-rendering="crispEdges"/>
<text x="1114.3" y="256.4" font-size="17.2" fill="#ff0000" textLength="57.8" lengthAdjust="spacingAndGlyphs">0.76194</text>
</g><g clip-path="url(#cm)" shape-rendering="crispEdges">
<rect x="-1" y="413" width="1" height="7" fill="#000"/>
<rect x="-3" y="413" width="5" height="7" fill="#000"/>
<rect x="-2" y="414" width="3" height="5" fill="#fff"/>
<rect x="7" y="388" width="1" height="34" fill="#000"/>
<rect x="5" y="412" width="5" height="1" fill="#000"/>
<rect x="15" y="401" width="1" height="33" fill="#000"/>
<rect x="13" y="404" width="5" height="8" fill="#000"/>
<rect x="14" y="405" width="3" height="6" fill="#fff"/>
<rect x="23" y="393" width="1" height="27" fill="#000"/>
<rect x="21" y="404" width="5" height="8" fill="#000"/>
<rect x="31" y="413" width="1" height="3" fill="#000"/>
<rect x="29" y="415" width="5" height="1" fill="#000"/>
<rect x="39" y="398" width="1" height="64" fill="#000"/>
<rect x="37" y="414" width="5" height="34" fill="#000"/>
<rect x="47" y="443" width="1" height="42" fill="#000"/>
<rect x="45" y="447" width="5" height="29" fill="#000"/>
<rect x="55" y="474" width="1" height="58" fill="#000"/>
<rect x="53" y="475" width="5" height="55" fill="#000"/>
<rect x="63" y="521" width="1" height="34" fill="#000"/>
<rect x="61" y="529" width="5" height="6" fill="#000"/>
<rect x="71" y="518" width="1" height="42" fill="#000"/>
<rect x="69" y="534" width="5" height="17" fill="#000"/>
<rect x="79" y="541" width="1" height="1" fill="#000"/>
<rect x="77" y="541" width="5" height="1" fill="#000"/>
<rect x="87" y="513" width="1" height="33" fill="#000"/>
<rect x="85" y="515" width="5" height="27" fill="#000"/>
<rect x="86" y="516" width="3" height="25" fill="#fff"/>
<rect x="95" y="488" width="1" height="37" fill="#000"/>
<rect x="93" y="488" width="5" height="27" fill="#000"/>
<rect x="94" y="489" width="3" height="25" fill="#fff"/>
<rect x="103" y="473" width="1" height="39" fill="#000"/>
<rect x="101" y="479" width="5" height="9" fill="#000"/>
<rect x="102" y="480" width="3" height="7" fill="#fff"/>
<rect x="111" y="456" width="1" height="29" fill="#000"/>
<rect x="109" y="471" width="5" height="8" fill="#000"/>
<rect x="110" y="472" width="3" height="6" fill="#fff"/>
<rect x="119" y="469" width="1" height="28" fill="#000"/>
<rect x="117" y="471" width="5" height="11" fill="#000"/>
<rect x="127" y="474" width="1" height="6" fill="#000"/>
<rect x="125" y="474" width="5" height="5" fill="#000"/>
<rect x="126" y="475" width="3" height="3" fill="#fff"/>
<rect x="135" y="464" width="1" height="17" fill="#000"/>
<rect x="133" y="465" width="5" height="9" fill="#000"/>
<rect x="134" y="466" width="3" height="7" fill="#fff"/>
<rect x="143" y="457" width="1" height="57" fill="#000"/>
<rect x="141" y="465" width="5" height="43" fill="#000"/>
<rect x="151" y="485" width="1" height="28" fill="#000"/>
<rect x="149" y="493" width="5" height="15" fill="#000"/>
<rect x="150" y="494" width="3" height="13" fill="#fff"/>
<rect x="159" y="473" width="1" height="28" fill="#000"/>
<rect x="157" y="473" width="5" height="20" fill="#000"/>
<rect x="158" y="474" width="3" height="18" fill="#fff"/>
<rect x="167" y="440" width="1" height="38" fill="#000"/>
<rect x="165" y="445" width="5" height="29" fill="#000"/>
<rect x="166" y="446" width="3" height="27" fill="#fff"/>
<rect x="175" y="446" width="1" height="5" fill="#000"/>
<rect x="173" y="446" width="5" height="4" fill="#000"/>
<rect x="183" y="443" width="1" height="17" fill="#000"/>
<rect x="181" y="449" width="5" height="9" fill="#000"/>
<rect x="191" y="456" width="1" height="31" fill="#000"/>
<rect x="189" y="456" width="5" height="24" fill="#000"/>
<rect x="199" y="466" width="1" height="32" fill="#000"/>
<rect x="197" y="479" width="5" height="13" fill="#000"/>
<rect x="207" y="487" width="1" height="47" fill="#000"/>
<rect x="205" y="491" width="5" height="28" fill="#000"/>
<rect x="215" y="513" width="1" height="14" fill="#000"/>
<rect x="213" y="519" width="5" height="1" fill="#000"/>
<rect x="223" y="514" width="1" height="7" fill="#000"/>
<rect x="221" y="515" width="5" height="6" fill="#000"/>
<rect x="222" y="516" width="3" height="4" fill="#fff"/>
<rect x="231" y="504" width="1" height="36" fill="#000"/>
<rect x="229" y="515" width="5" height="21" fill="#000"/>
<rect x="239" y="525" width="1" height="27" fill="#000"/>
<rect x="237" y="535" width="5" height="3" fill="#000"/>
<rect x="247" y="493" width="1" height="45" fill="#000"/>
<rect x="245" y="509" width="5" height="28" fill="#000"/>
<rect x="246" y="510" width="3" height="26" fill="#fff"/>
<rect x="255" y="492" width="1" height="28" fill="#000"/>
<rect x="253" y="498" width="5" height="11" fill="#000"/>
<rect x="254" y="499" width="3" height="9" fill="#fff"/>
<rect x="263" y="482" width="1" height="30" fill="#000"/>
<rect x="261" y="494" width="5" height="5" fill="#000"/>
<rect x="262" y="495" width="3" height="3" fill="#fff"/>
<rect x="271" y="495" width="1" height="9" fill="#000"/>
<rect x="269" y="496" width="5" height="8" fill="#000"/>
<rect x="270" y="497" width="3" height="6" fill="#fff"/>
<rect x="279" y="488" width="1" height="23" fill="#000"/>
<rect x="277" y="496" width="5" height="8" fill="#000"/>
<rect x="287" y="488" width="1" height="18" fill="#000"/>
<rect x="285" y="501" width="5" height="3" fill="#000"/>
<rect x="286" y="502" width="3" height="1" fill="#fff"/>
<rect x="295" y="483" width="1" height="61" fill="#000"/>
<rect x="293" y="500" width="5" height="34" fill="#000"/>
<rect x="303" y="523" width="1" height="39" fill="#000"/>
<rect x="301" y="534" width="5" height="10" fill="#000"/>
<rect x="311" y="526" width="1" height="31" fill="#000"/>
<rect x="309" y="543" width="5" height="5" fill="#000"/>
<rect x="319" y="550" width="1" height="14" fill="#000"/>
<rect x="317" y="553" width="5" height="6" fill="#000"/>
<rect x="327" y="533" width="1" height="34" fill="#000"/>
<rect x="325" y="535" width="5" height="23" fill="#000"/>
<rect x="326" y="536" width="3" height="21" fill="#fff"/>
<rect x="335" y="457" width="1" height="92" fill="#000"/>
<rect x="333" y="463" width="5" height="73" fill="#000"/>
<rect x="334" y="464" width="3" height="71" fill="#fff"/>
<rect x="343" y="450" width="1" height="88" fill="#000"/>
<rect x="341" y="463" width="5" height="9" fill="#000"/>
<rect x="351" y="416" width="1" height="74" fill="#000"/>
<rect x="349" y="430" width="5" height="42" fill="#000"/>
<rect x="350" y="431" width="3" height="40" fill="#fff"/>
<rect x="359" y="417" width="1" height="26" fill="#000"/>
<rect x="357" y="427" width="5" height="3" fill="#000"/>
<rect x="358" y="428" width="3" height="1" fill="#fff"/>
<rect x="367" y="416" width="1" height="9" fill="#000"/>
<rect x="365" y="418" width="5" height="6" fill="#000"/>
<rect x="366" y="419" width="3" height="4" fill="#fff"/>
<rect x="375" y="391" width="1" height="37" fill="#000"/>
<rect x="373" y="417" width="5" height="5" fill="#000"/>
<rect x="383" y="413" width="1" height="22" fill="#000"/>
<rect x="381" y="420" width="5" height="3" fill="#000"/>
<rect x="382" y="421" width="3" height="1" fill="#fff"/>
<rect x="391" y="402" width="1" height="30" fill="#000"/>
<rect x="389" y="419" width="5" height="2" fill="#000"/>
<rect x="399" y="414" width="1" height="36" fill="#000"/>
<rect x="397" y="420" width="5" height="22" fill="#000"/>
<rect x="407" y="424" width="1" height="27" fill="#000"/>
<rect x="405" y="430" width="5" height="12" fill="#000"/>
<rect x="406" y="431" width="3" height="10" fill="#fff"/>
<rect x="415" y="412" width="1" height="17" fill="#000"/>
<rect x="413" y="416" width="5" height="13" fill="#000"/>
<rect x="414" y="417" width="3" height="11" fill="#fff"/>
<rect x="423" y="397" width="1" height="24" fill="#000"/>
<rect x="421" y="402" width="5" height="14" fill="#000"/>
<rect x="422" y="403" width="3" height="12" fill="#fff"/>
<rect x="431" y="391" width="1" height="27" fill="#000"/>
<rect x="429" y="401" width="5" height="12" fill="#000"/>
<rect x="439" y="395" width="1" height="31" fill="#000"/>
<rect x="437" y="412" width="5" height="2" fill="#000"/>
<rect x="447" y="411" width="1" height="24" fill="#000"/>
<rect x="445" y="413" width="5" height="15" fill="#000"/>
<rect x="455" y="399" width="1" height="29" fill="#000"/>
<rect x="453" y="405" width="5" height="23" fill="#000"/>
<rect x="454" y="406" width="3" height="21" fill="#fff"/>
<rect x="463" y="403" width="1" height="8" fill="#000"/>
<rect x="461" y="404" width="5" height="6" fill="#000"/>
<rect x="462" y="405" width="3" height="4" fill="#fff"/>
<rect x="471" y="392" width="1" height="37" fill="#000"/>
<rect x="469" y="405" width="5" height="9" fill="#000"/>
<rect x="479" y="377" width="1" height="39" fill="#000"/>
<rect x="477" y="377" width="5" height="37" fill="#000"/>
<rect x="478" y="378" width="3" height="35" fill="#fff"/>
<rect x="487" y="374" width="1" height="25" fill="#000"/>
<rect x="485" y="377" width="5" height="3" fill="#000"/>
<rect x="495" y="373" width="1" height="12" fill="#000"/>
<rect x="493" y="379" width="5" height="4" fill="#000"/>
<rect x="503" y="361" width="1" height="24" fill="#000"/>
<rect x="501" y="366" width="5" height="17" fill="#000"/>
<rect x="502" y="367" width="3" height="15" fill="#fff"/>
<rect x="511" y="358" width="1" height="10" fill="#000"/>
<rect x="509" y="360" width="5" height="8" fill="#000"/>
<rect x="510" y="361" width="3" height="6" fill="#fff"/>
<rect x="519" y="357" width="1" height="35" fill="#000"/>
<rect x="517" y="360" width="5" height="22" fill="#000"/>
<rect x="527" y="368" width="1" height="23" fill="#000"/>
<rect x="525" y="370" width="5" height="12" fill="#000"/>
<rect x="526" y="371" width="3" height="10" fill="#fff"/>
<rect x="535" y="350" width="1" height="36" fill="#000"/>
<rect x="533" y="354" width="5" height="17" fill="#000"/>
<rect x="534" y="355" width="3" height="15" fill="#fff"/>
<rect x="543" y="335" width="1" height="27" fill="#000"/>
<rect x="541" y="342" width="5" height="12" fill="#000"/>
<rect x="542" y="343" width="3" height="10" fill="#fff"/>
<rect x="551" y="338" width="1" height="18" fill="#000"/>
<rect x="549" y="340" width="5" height="3" fill="#000"/>
<rect x="550" y="341" width="3" height="1" fill="#fff"/>
<rect x="559" y="342" width="1" height="5" fill="#000"/>
<rect x="557" y="345" width="5" height="2" fill="#000"/>
<rect x="567" y="333" width="1" height="42" fill="#000"/>
<rect x="565" y="345" width="5" height="8" fill="#000"/>
<rect x="575" y="342" width="1" height="20" fill="#000"/>
<rect x="573" y="353" width="5" height="3" fill="#000"/>
<rect x="583" y="317" width="1" height="39" fill="#000"/>
<rect x="581" y="343" width="5" height="13" fill="#000"/>
<rect x="582" y="344" width="3" height="11" fill="#fff"/>
<rect x="591" y="290" width="1" height="54" fill="#000"/>
<rect x="589" y="298" width="5" height="46" fill="#000"/>
<rect x="590" y="299" width="3" height="44" fill="#fff"/>
<rect x="599" y="274" width="1" height="27" fill="#000"/>
<rect x="597" y="292" width="5" height="7" fill="#000"/>
<rect x="598" y="293" width="3" height="5" fill="#fff"/>
<rect x="607" y="282" width="1" height="5" fill="#000"/>
<rect x="605" y="285" width="5" height="1" fill="#000"/>
<rect x="615" y="270" width="1" height="28" fill="#000"/>
<rect x="613" y="286" width="5" height="7" fill="#000"/>
<rect x="623" y="274" width="1" height="33" fill="#000"/>
<rect x="621" y="282" width="5" height="11" fill="#000"/>
<rect x="622" y="283" width="3" height="9" fill="#fff"/>
<rect x="631" y="270" width="1" height="21" fill="#000"/>
<rect x="629" y="276" width="5" height="6" fill="#000"/>
<rect x="630" y="277" width="3" height="4" fill="#fff"/>
<rect x="639" y="239" width="1" height="37" fill="#000"/>
<rect x="637" y="252" width="5" height="24" fill="#000"/>
<rect x="638" y="253" width="3" height="22" fill="#fff"/>
<rect x="647" y="248" width="1" height="21" fill="#000"/>
<rect x="645" y="252" width="5" height="1" fill="#000"/>
<rect x="655" y="256" width="1" height="11" fill="#000"/>
<rect x="653" y="259" width="5" height="8" fill="#000"/>
<rect x="663" y="258" width="1" height="72" fill="#000"/>
<rect x="661" y="266" width="5" height="6" fill="#000"/>
<rect x="671" y="268" width="1" height="34" fill="#000"/>
<rect x="669" y="271" width="5" height="12" fill="#000"/>
<rect x="679" y="264" width="1" height="35" fill="#000"/>
<rect x="677" y="268" width="5" height="15" fill="#000"/>
<rect x="678" y="269" width="3" height="13" fill="#fff"/>
<rect x="687" y="256" width="1" height="15" fill="#000"/>
<rect x="685" y="266" width="5" height="3" fill="#000"/>
<rect x="686" y="267" width="3" height="1" fill="#fff"/>
<rect x="695" y="253" width="1" height="9" fill="#000"/>
<rect x="693" y="255" width="5" height="7" fill="#000"/>
<rect x="694" y="256" width="3" height="5" fill="#fff"/>
<rect x="703" y="248" width="1" height="34" fill="#000"/>
<rect x="701" y="254" width="5" height="13" fill="#000"/>
<rect x="711" y="247" width="1" height="21" fill="#000"/>
<rect x="709" y="254" width="5" height="12" fill="#000"/>
<rect x="710" y="255" width="3" height="10" fill="#fff"/>
<rect x="719" y="214" width="1" height="43" fill="#000"/>
<rect x="717" y="215" width="5" height="41" fill="#000"/>
<rect x="718" y="216" width="3" height="39" fill="#fff"/>
<rect x="727" y="188" width="1" height="29" fill="#000"/>
<rect x="725" y="213" width="5" height="3" fill="#000"/>
<rect x="726" y="214" width="3" height="1" fill="#fff"/>
<rect x="735" y="202" width="1" height="13" fill="#000"/>
<rect x="733" y="203" width="5" height="9" fill="#000"/>
<rect x="734" y="204" width="3" height="7" fill="#fff"/>
<rect x="743" y="188" width="1" height="51" fill="#000"/>
<rect x="741" y="204" width="5" height="21" fill="#000"/>
<rect x="751" y="170" width="1" height="60" fill="#000"/>
<rect x="749" y="177" width="5" height="48" fill="#000"/>
<rect x="750" y="178" width="3" height="46" fill="#fff"/>
<rect x="759" y="148" width="1" height="45" fill="#000"/>
<rect x="757" y="151" width="5" height="27" fill="#000"/>
<rect x="758" y="152" width="3" height="25" fill="#fff"/>
<rect x="767" y="150" width="1" height="47" fill="#000"/>
<rect x="765" y="151" width="5" height="24" fill="#000"/>
<rect x="775" y="160" width="1" height="36" fill="#000"/>
<rect x="773" y="174" width="5" height="11" fill="#000"/>
<rect x="783" y="180" width="1" height="24" fill="#000"/>
<rect x="781" y="181" width="5" height="19" fill="#000"/>
<rect x="791" y="193" width="1" height="34" fill="#000"/>
<rect x="789" y="197" width="5" height="9" fill="#000"/>
<rect x="799" y="170" width="1" height="47" fill="#000"/>
<rect x="797" y="171" width="5" height="34" fill="#000"/>
<rect x="798" y="172" width="3" height="32" fill="#fff"/>
<rect x="807" y="168" width="1" height="31" fill="#000"/>
<rect x="805" y="171" width="5" height="16" fill="#000"/>
<rect x="815" y="156" width="1" height="40" fill="#000"/>
<rect x="813" y="171" width="5" height="14" fill="#000"/>
<rect x="814" y="172" width="3" height="12" fill="#fff"/>
<rect x="823" y="164" width="1" height="55" fill="#000"/>
<rect x="821" y="171" width="5" height="35" fill="#000"/>
<rect x="831" y="204" width="1" height="14" fill="#000"/>
<rect x="829" y="205" width="5" height="13" fill="#000"/>
<rect x="839" y="207" width="1" height="24" fill="#000"/>
<rect x="837" y="216" width="5" height="2" fill="#000"/>
<rect x="847" y="196" width="1" height="22" fill="#000"/>
<rect x="845" y="202" width="5" height="15" fill="#000"/>
<rect x="846" y="203" width="3" height="13" fill="#fff"/>
<rect x="855" y="177" width="1" height="33" fill="#000"/>
<rect x="853" y="181" width="5" height="21" fill="#000"/>
<rect x="854" y="182" width="3" height="19" fill="#fff"/>
<rect x="863" y="168" width="1" height="21" fill="#000"/>
<rect x="861" y="179" width="5" height="3" fill="#000"/>
<rect x="862" y="180" width="3" height="1" fill="#fff"/>
<rect x="871" y="174" width="1" height="35" fill="#000"/>
<rect x="869" y="179" width="5" height="22" fill="#000"/>
<rect x="879" y="198" width="1" height="8" fill="#000"/>
<rect x="877" y="202" width="5" height="3" fill="#000"/>
<rect x="878" y="203" width="3" height="1" fill="#fff"/>
<rect x="887" y="185" width="1" height="34" fill="#000"/>
<rect x="885" y="202" width="5" height="1" fill="#000"/>
<rect x="895" y="182" width="1" height="43" fill="#000"/>
<rect x="893" y="182" width="5" height="20" fill="#000"/>
<rect x="894" y="183" width="3" height="18" fill="#fff"/>
<rect x="903" y="177" width="1" height="62" fill="#000"/>
<rect x="901" y="182" width="5" height="54" fill="#000"/>
<rect x="911" y="210" width="1" height="54" fill="#000"/>
<rect x="909" y="224" width="5" height="10" fill="#000"/>
<rect x="910" y="225" width="3" height="8" fill="#fff"/>
<rect x="919" y="207" width="1" height="38" fill="#000"/>
<rect x="917" y="224" width="5" height="17" fill="#000"/>
<rect x="927" y="244" width="1" height="14" fill="#000"/>
<rect x="925" y="246" width="5" height="4" fill="#000"/>
<rect x="935" y="228" width="1" height="26" fill="#000"/>
<rect x="933" y="244" width="5" height="6" fill="#000"/>
<rect x="934" y="245" width="3" height="4" fill="#fff"/>
<rect x="943" y="228" width="1" height="50" fill="#000"/>
<rect x="941" y="243" width="5" height="15" fill="#000"/>
<rect x="951" y="241" width="1" height="19" fill="#000"/>
<rect x="949" y="241" width="5" height="16" fill="#000"/>
<rect x="950" y="242" width="3" height="14" fill="#fff"/>
<rect x="959" y="235" width="1" height="31" fill="#000"/>
<rect x="957" y="241" width="5" height="18" fill="#000"/>
<rect x="967" y="224" width="1" height="45" fill="#000"/>
<rect x="965" y="225" width="5" height="34" fill="#000"/>
<rect x="966" y="226" width="3" height="32" fill="#fff"/>
<rect x="975" y="218" width="1" height="6" fill="#000"/>
<rect x="973" y="220" width="5" height="4" fill="#000"/>
<rect x="974" y="221" width="3" height="2" fill="#fff"/>
<rect x="983" y="201" width="1" height="34" fill="#000"/>
<rect x="981" y="205" width="5" height="15" fill="#000"/>
<rect x="982" y="206" width="3" height="13" fill="#fff"/>
<rect x="991" y="187" width="1" height="21" fill="#000"/>
<rect x="989" y="190" width="5" height="15" fill="#000"/>
<rect x="990" y="191" width="3" height="13" fill="#fff"/>
<rect x="999" y="181" width="1" height="20" fill="#000"/>
<rect x="997" y="189" width="5" height="9" fill="#000"/>
<rect x="1007" y="173" width="1" height="30" fill="#000"/>
<rect x="1005" y="184" width="5" height="13" fill="#000"/>
<rect x="1006" y="185" width="3" height="11" fill="#fff"/>
<rect x="1015" y="176" width="1" height="25" fill="#000"/>
<rect x="1013" y="181" width="5" height="3" fill="#000"/>
<rect x="1014" y="182" width="3" height="1" fill="#fff"/>
<rect x="1023" y="175" width="1" height="5" fill="#000"/>
<rect x="1021" y="177" width="5" height="3" fill="#000"/>
<rect x="1022" y="178" width="3" height="1" fill="#fff"/>
<rect x="1031" y="164" width="1" height="16" fill="#000"/>
<rect x="1029" y="166" width="5" height="12" fill="#000"/>
<rect x="1030" y="167" width="3" height="10" fill="#fff"/>
<rect x="1039" y="156" width="1" height="39" fill="#000"/>
<rect x="1037" y="166" width="5" height="26" fill="#000"/>
<rect x="1047" y="173" width="1" height="25" fill="#000"/>
<rect x="1045" y="180" width="5" height="12" fill="#000"/>
<rect x="1046" y="181" width="3" height="10" fill="#fff"/>
<rect x="1055" y="164" width="1" height="30" fill="#000"/>
<rect x="1053" y="176" width="5" height="4" fill="#000"/>
<rect x="1054" y="177" width="3" height="2" fill="#fff"/>
<rect x="1063" y="120" width="1" height="61" fill="#000"/>
<rect x="1061" y="125" width="5" height="51" fill="#000"/>
<rect x="1062" y="126" width="3" height="49" fill="#fff"/>
<rect x="1071" y="112" width="1" height="13" fill="#000"/>
<rect x="1069" y="118" width="5" height="6" fill="#000"/>
<rect x="1070" y="119" width="3" height="4" fill="#fff"/>
<rect x="1079" y="93" width="1" height="39" fill="#000"/>
<rect x="1077" y="101" width="5" height="16" fill="#000"/>
<rect x="1078" y="102" width="3" height="14" fill="#fff"/>
<rect x="1087" y="91" width="1" height="28" fill="#000"/>
<rect x="1085" y="101" width="5" height="5" fill="#000"/>
<rect x="1095" y="69" width="1" height="43" fill="#000"/>
<rect x="1093" y="70" width="5" height="34" fill="#000"/>
<rect x="1094" y="71" width="3" height="32" fill="#fff"/>
<rect x="1103" y="54" width="1" height="76" fill="#000"/>
<rect x="1101" y="71" width="5" height="57" fill="#000"/>
<rect x="1111" y="122" width="1" height="85" fill="#000"/>
<rect x="1109" y="126" width="5" height="79" fill="#000"/>
<rect x="1119" y="179" width="1" height="25" fill="#000"/>
<rect x="1117" y="184" width="5" height="16" fill="#000"/>
<rect x="1118" y="185" width="3" height="14" fill="#fff"/>
<rect x="1127" y="165" width="1" height="34" fill="#000"/>
<rect x="1125" y="172" width="5" height="10" fill="#000"/>
<rect x="1126" y="173" width="3" height="8" fill="#fff"/>
<rect x="1135" y="140" width="1" height="52" fill="#000"/>
<rect x="1133" y="146" width="5" height="27" fill="#000"/>
<rect x="1134" y="147" width="3" height="25" fill="#fff"/>
<rect x="1143" y="139" width="1" height="45" fill="#000"/>
<rect x="1141" y="147" width="5" height="35" fill="#000"/>
<rect x="1151" y="151" width="1" height="57" fill="#000"/>
<rect x="1149" y="182" width="5" height="20" fill="#000"/>
<rect x="1159" y="196" width="1" height="54" fill="#000"/>
<rect x="1157" y="202" width="5" height="13" fill="#000"/>
<rect x="1167" y="198" width="1" height="14" fill="#000"/>
<rect x="1165" y="205" width="5" height="7" fill="#000"/>
<rect x="1166" y="206" width="3" height="5" fill="#fff"/>
<rect x="1175" y="202" width="1" height="40" fill="#000"/>
<rect x="1173" y="205" width="5" height="27" fill="#000"/>
<rect x="1183" y="196" width="1" height="53" fill="#000"/>
<rect x="1181" y="201" width="5" height="30" fill="#000"/>
<rect x="1182" y="202" width="3" height="28" fill="#fff"/>
<rect x="1191" y="186" width="1" height="40" fill="#000"/>
<rect x="1189" y="194" width="5" height="7" fill="#000"/>
<rect x="1190" y="195" width="3" height="5" fill="#fff"/>
<rect x="1199" y="162" width="1" height="36" fill="#000"/>
<rect x="1197" y="166" width="5" height="27" fill="#000"/>
<rect x="1198" y="167" width="3" height="25" fill="#fff"/>
<rect x="1207" y="158" width="1" height="40" fill="#000"/>
<rect x="1205" y="166" width="5" height="15" fill="#000"/>
<rect x="1215" y="177" width="1" height="7" fill="#000"/>
<rect x="1213" y="178" width="5" height="5" fill="#000"/>
<rect x="1214" y="179" width="3" height="3" fill="#fff"/>
<rect x="1223" y="171" width="1" height="36" fill="#000"/>
<rect x="1221" y="178" width="5" height="8" fill="#000"/>
<rect x="1231" y="180" width="1" height="25" fill="#000"/>
<rect x="1229" y="186" width="5" height="1" fill="#000"/>
<rect x="1239" y="151" width="1" height="59" fill="#000"/>
<rect x="1237" y="152" width="5" height="34" fill="#000"/>
<rect x="1238" y="153" width="3" height="32" fill="#fff"/>
<rect x="1247" y="134" width="1" height="51" fill="#000"/>
<rect x="1245" y="151" width="5" height="32" fill="#000"/>
<rect x="1255" y="173" width="1" height="28" fill="#000"/>
<rect x="1253" y="184" width="5" height="1" fill="#000"/>
<rect x="1263" y="194" width="1" height="4" fill="#000"/>
<rect x="1261" y="197" width="5" height="1" fill="#000"/>
<rect x="1271" y="180" width="1" height="28" fill="#000"/>
<rect x="1269" y="186" width="5" height="12" fill="#000"/>
<rect x="1270" y="187" width="3" height="10" fill="#fff"/>
<rect x="1279" y="185" width="1" height="76" fill="#000"/>
<rect x="1277" y="186" width="5" height="70" fill="#000"/>
<rect x="1287" y="245" width="1" height="26" fill="#000"/>
<rect x="1285" y="255" width="5" height="10" fill="#000"/>
<rect x="1295" y="253" width="1" height="25" fill="#000"/>
<rect x="1293" y="263" width="5" height="2" fill="#000"/>
<rect x="1303" y="240" width="1" height="27" fill="#000"/>
<rect x="1301" y="250" width="5" height="13" fill="#000"/>
<rect x="1302" y="251" width="3" height="11" fill="#fff"/>
<rect x="1311" y="238" width="1" height="4" fill="#000"/>
<rect x="1309" y="240" width="5" height="2" fill="#000"/>
<rect x="1319" y="231" width="1" height="17" fill="#000"/>
<rect x="1317" y="240" width="5" height="2" fill="#000"/>
<rect x="1327" y="227" width="1" height="38" fill="#000"/>
<rect x="1325" y="240" width="5" height="16" fill="#000"/>
<rect x="1335" y="241" width="1" height="24" fill="#000"/>
<rect x="1333" y="256" width="5" height="6" fill="#000"/>
<rect x="1343" y="250" width="1" height="44" fill="#000"/>
<rect x="1341" y="250" width="5" height="12" fill="#000"/>
<rect x="1342" y="251" width="3" height="10" fill="#fff"/>
<rect x="1351" y="250" width="1" height="6" fill="#000"/>
<rect x="1349" y="250" width="5" height="5" fill="#000"/>
<rect x="1350" y="251" width="3" height="3" fill="#fff"/>
<rect x="1359" y="229" width="1" height="32" fill="#000"/>
<rect x="1357" y="230" width="5" height="20" fill="#000"/>
<rect x="1358" y="231" width="3" height="18" fill="#fff"/>
<rect x="1367" y="225" width="1" height="32" fill="#000"/>
<rect x="1365" y="226" width="5" height="5" fill="#000"/>
<rect x="1366" y="227" width="3" height="3" fill="#fff"/>
<rect x="1375" y="221" width="1" height="39" fill="#000"/>
<rect x="1373" y="226" width="5" height="28" fill="#000"/>
<rect x="1383" y="229" width="1" height="30" fill="#000"/>
<rect x="1381" y="231" width="5" height="22" fill="#000"/>
<rect x="1382" y="232" width="3" height="20" fill="#fff"/>
<rect x="1391" y="229" width="1" height="37" fill="#000"/>
<rect x="1389" y="231" width="5" height="17" fill="#000"/>
<rect x="1399" y="245" width="1" height="6" fill="#000"/>
<rect x="1397" y="248" width="5" height="3" fill="#000"/>
<rect x="1398" y="249" width="3" height="1" fill="#fff"/>
<rect x="1407" y="241" width="1" height="21" fill="#000"/>
<rect x="1405" y="246" width="5" height="5" fill="#000"/>
<rect x="1406" y="247" width="3" height="3" fill="#fff"/>
<rect x="1415" y="235" width="1" height="32" fill="#000"/>
<rect x="1413" y="240" width="5" height="6" fill="#000"/>
<rect x="1414" y="241" width="3" height="4" fill="#fff"/>
</g>
<g clip-path="url(#cm)">
<rect x="1202" y="248" width="239" height="5" fill="#00ff00" shape-rendering="crispEdges"/>
<text x="1458" y="265.5" font-size="19.5" fill="#00ff00" font-family="'Liberation Sans','Noto Sans CJK SC',sans-serif" textLength="104" lengthAdjust="spacing">多空转折点</text>
<line x1="1246" y1="154" x2="1335.7" y2="279.4" stroke="#ff0000" stroke-width="3.2"/>
<polygon points="1343.3,290 1331.8,282.2 1339.6,276.6" fill="#ff0000"/>
<line x1="1343.3" y1="290" x2="1359.9" y2="241.4" stroke="#ff0000" stroke-width="3.3"/>
<polygon points="1363.5,231 1364.1,242.8 1355.8,240.0" fill="#ff0000"/>
<line x1="1363.5" y1="231" x2="1410.7" y2="261.1" stroke="#ff0000" stroke-width="3.3"/>
<polygon points="1420,267 1408.4,264.7 1413.0,257.5" fill="#ff0000"/>
<line x1="1420" y1="267" x2="1439.6" y2="245.6" stroke="#ff0000" stroke-width="3.3"/>
<polygon points="1446,238.6 1442.5,248.2 1436.7,243.0" fill="#ff0000"/>
<rect x="1343" y="262" width="1" height="32" fill="#000" shape-rendering="crispEdges"/>
</g>
<g shape-rendering="crispEdges" fill="#000">
<rect x="0" y="27" width="1687" height="1"/>
<rect x="1686" y="27" width="1" height="902"/>
<rect x="0" y="580" width="1687" height="1"/><rect x="0" y="582" width="1687" height="1"/>
<rect x="0" y="752" width="1687" height="1"/><rect x="0" y="754" width="1687" height="1"/>
<rect x="0" y="928" width="1687" height="1"/>
</g>
<rect x="1687" y="49" width="2" height="1" fill="#000" shape-rendering="crispEdges"/>
<text x="1692" y="53" font-size="9.4" fill="#000" textLength="33" lengthAdjust="spacingAndGlyphs">0.80155</text>
<rect x="1687" y="82" width="2" height="1" fill="#000" shape-rendering="crispEdges"/>
<text x="1692" y="86" font-size="9.4" fill="#000" textLength="33" lengthAdjust="spacingAndGlyphs">0.79510</text>
<rect x="1687" y="115" width="2" height="1" fill="#000" shape-rendering="crispEdges"/>
<text x="1692" y="119" font-size="9.4" fill="#000" textLength="33" lengthAdjust="spacingAndGlyphs">0.78850</text>
<rect x="1687" y="148" width="2" height="1" fill="#000" shape-rendering="crispEdges"/>
<text x="1692" y="152" font-size="9.4" fill="#000" textLength="33" lengthAdjust="spacingAndGlyphs">0.78190</text>
<rect x="1687" y="181" width="2" height="1" fill="#000" shape-rendering="crispEdges"/>
<text x="1692" y="185" font-size="9.4" fill="#000" textLength="33" lengthAdjust="spacingAndGlyphs">0.77545</text>
<rect x="1687" y="214" width="2" height="1" fill="#000" shape-rendering="crispEdges"/>
<text x="1692" y="218" font-size="9.4" fill="#000" textLength="33" lengthAdjust="spacingAndGlyphs">0.76885</text>
<rect x="1687" y="247" width="2" height="1" fill="#000" shape-rendering="crispEdges"/>
<text x="1692" y="251" font-size="9.4" fill="#000" textLength="33" lengthAdjust="spacingAndGlyphs">0.76240</text>
<rect x="1687" y="280" width="2" height="1" fill="#000" shape-rendering="crispEdges"/>
<text x="1692" y="284" font-size="9.4" fill="#000" textLength="33" lengthAdjust="spacingAndGlyphs">0.75580</text>
<rect x="1687" y="313" width="2" height="1" fill="#000" shape-rendering="crispEdges"/>
<text x="1692" y="317" font-size="9.4" fill="#000" textLength="33" lengthAdjust="spacingAndGlyphs">0.74920</text>
<rect x="1687" y="346" width="2" height="1" fill="#000" shape-rendering="crispEdges"/>
<text x="1692" y="350" font-size="9.4" fill="#000" textLength="33" lengthAdjust="spacingAndGlyphs">0.74275</text>
<rect x="1687" y="379" width="2" height="1" fill="#000" shape-rendering="crispEdges"/>
<text x="1692" y="383" font-size="9.4" fill="#000" textLength="33" lengthAdjust="spacingAndGlyphs">0.73615</text>
<rect x="1687" y="412" width="2" height="1" fill="#000" shape-rendering="crispEdges"/>
<text x="1692" y="416" font-size="9.4" fill="#000" textLength="33" lengthAdjust="spacingAndGlyphs">0.72955</text>
<rect x="1687" y="445" width="2" height="1" fill="#000" shape-rendering="crispEdges"/>
<text x="1692" y="449" font-size="9.4" fill="#000" textLength="33" lengthAdjust="spacingAndGlyphs">0.72310</text>
<rect x="1687" y="478" width="2" height="1" fill="#000" shape-rendering="crispEdges"/>
<text x="1692" y="482" font-size="9.4" fill="#000" textLength="33" lengthAdjust="spacingAndGlyphs">0.71650</text>
<rect x="1687" y="511" width="2" height="1" fill="#000" shape-rendering="crispEdges"/>
<text x="1692" y="515" font-size="9.4" fill="#000" textLength="33" lengthAdjust="spacingAndGlyphs">0.70990</text>
<rect x="1687" y="544" width="2" height="1" fill="#000" shape-rendering="crispEdges"/>
<text x="1692" y="548" font-size="9.4" fill="#000" textLength="33" lengthAdjust="spacingAndGlyphs">0.70345</text>
<rect x="1687" y="577" width="2" height="1" fill="#000" shape-rendering="crispEdges"/>
<text x="1692" y="581" font-size="9.4" fill="#000" textLength="33" lengthAdjust="spacingAndGlyphs">0.69685</text>
<rect x="1688" y="206" width="41" height="11" fill="#ff0000" shape-rendering="crispEdges"/>
<text x="1692" y="215.5" font-size="9.4" fill="#fff" textLength="33" lengthAdjust="spacingAndGlyphs">0.76927</text>
<rect x="1688" y="222" width="41" height="11" fill="#ff0000" shape-rendering="crispEdges"/>
<text x="1692" y="231.5" font-size="9.4" fill="#fff" textLength="33" lengthAdjust="spacingAndGlyphs">0.76610</text>
<rect x="1688" y="235" width="41" height="11" fill="#000000" shape-rendering="crispEdges"/>
<text x="1692" y="244.5" font-size="9.4" fill="#fff" textLength="33" lengthAdjust="spacingAndGlyphs">0.76377</text>
<rect x="1688" y="243" width="41" height="11" fill="#00cccc" shape-rendering="crispEdges"/>
<text x="1692" y="252.5" font-size="9.4" fill="#fff" textLength="33" lengthAdjust="spacingAndGlyphs">0.76194</text>
<rect x="1688" y="261" width="41" height="11" fill="#0000ff" shape-rendering="crispEdges"/>
<text x="1692" y="270.5" font-size="9.4" fill="#fff" textLength="33" lengthAdjust="spacingAndGlyphs">0.75838</text>
<rect x="1688" y="272" width="41" height="11" fill="#0000ff" shape-rendering="crispEdges"/>
<text x="1692" y="281.5" font-size="9.4" fill="#fff" textLength="33" lengthAdjust="spacingAndGlyphs">0.75620</text>
<rect x="1681.5" y="265.5" width="4" height="4" fill="#fff" stroke="#0000ff" shape-rendering="crispEdges"/>
<rect x="-0.5" y="265.5" width="4" height="4" fill="#fff" stroke="#0000ff" shape-rendering="crispEdges"/>
<g clip-path="url(#c2)" shape-rendering="crispEdges">
<rect x="-1" y="661" width="1" height="30" fill="#c0c0c0"/>
<rect x="7" y="662" width="1" height="29" fill="#c0c0c0"/>
<rect x="15" y="661" width="1" height="30" fill="#c0c0c0"/>
<rect x="23" y="662" width="1" height="29" fill="#c0c0c0"/>
<rect x="31" y="664" width="1" height="27" fill="#c0c0c0"/>
<rect x="39" y="672" width="1" height="19" fill="#c0c0c0"/>
<rect x="47" y="683" width="1" height="8" fill="#c0c0c0"/>
<rect x="55" y="690" width="1" height="14" fill="#c0c0c0"/>
<rect x="63" y="690" width="1" height="29" fill="#c0c0c0"/>
<rect x="71" y="690" width="1" height="45" fill="#c0c0c0"/>
<rect x="79" y="690" width="1" height="54" fill="#c0c0c0"/>
<rect x="87" y="690" width="1" height="56" fill="#c0c0c0"/>
<rect x="95" y="690" width="1" height="52" fill="#c0c0c0"/>
<rect x="103" y="690" width="1" height="47" fill="#c0c0c0"/>
<rect x="111" y="690" width="1" height="41" fill="#c0c0c0"/>
<rect x="119" y="690" width="1" height="37" fill="#c0c0c0"/>
<rect x="127" y="690" width="1" height="33" fill="#c0c0c0"/>
<rect x="135" y="690" width="1" height="27" fill="#c0c0c0"/>
<rect x="143" y="690" width="1" height="30" fill="#c0c0c0"/>
<rect x="151" y="690" width="1" height="30" fill="#c0c0c0"/>
<rect x="159" y="690" width="1" height="25" fill="#c0c0c0"/>
<rect x="167" y="690" width="1" height="16" fill="#c0c0c0"/>
<rect x="175" y="690" width="1" height="10" fill="#c0c0c0"/>
<rect x="183" y="690" width="1" height="6" fill="#c0c0c0"/>
<rect x="191" y="690" width="1" height="8" fill="#c0c0c0"/>
<rect x="199" y="690" width="1" height="11" fill="#c0c0c0"/>
<rect x="207" y="690" width="1" height="18" fill="#c0c0c0"/>
<rect x="215" y="690" width="1" height="24" fill="#c0c0c0"/>
<rect x="223" y="690" width="1" height="27" fill="#c0c0c0"/>
<rect x="231" y="690" width="1" height="34" fill="#c0c0c0"/>
<rect x="239" y="690" width="1" height="38" fill="#c0c0c0"/>
<rect x="247" y="690" width="1" height="37" fill="#c0c0c0"/>
<rect x="255" y="690" width="1" height="33" fill="#c0c0c0"/>
<rect x="263" y="690" width="1" height="28" fill="#c0c0c0"/>
<rect x="271" y="690" width="1" height="25" fill="#c0c0c0"/>
<rect x="279" y="690" width="1" height="24" fill="#c0c0c0"/>
<rect x="287" y="690" width="1" height="22" fill="#c0c0c0"/>
<rect x="295" y="690" width="1" height="26" fill="#c0c0c0"/>
<rect x="303" y="690" width="1" height="31" fill="#c0c0c0"/>
<rect x="311" y="690" width="1" height="36" fill="#c0c0c0"/>
<rect x="319" y="690" width="1" height="41" fill="#c0c0c0"/>
<rect x="327" y="690" width="1" height="40" fill="#c0c0c0"/>
<rect x="335" y="690" width="1" height="25" fill="#c0c0c0"/>
<rect x="343" y="690" width="1" height="15" fill="#c0c0c0"/>
<rect x="351" y="689" width="1" height="2" fill="#c0c0c0"/>
<rect x="359" y="676" width="1" height="15" fill="#c0c0c0"/>
<rect x="367" y="664" width="1" height="27" fill="#c0c0c0"/>
<rect x="375" y="656" width="1" height="35" fill="#c0c0c0"/>
<rect x="383" y="650" width="1" height="41" fill="#c0c0c0"/>
<rect x="391" y="645" width="1" height="46" fill="#c0c0c0"/>
<rect x="399" y="646" width="1" height="45" fill="#c0c0c0"/>
<rect x="407" y="645" width="1" height="46" fill="#c0c0c0"/>
<rect x="415" y="642" width="1" height="49" fill="#c0c0c0"/>
<rect x="423" y="638" width="1" height="53" fill="#c0c0c0"/>
<rect x="431" y="637" width="1" height="54" fill="#c0c0c0"/>
<rect x="439" y="638" width="1" height="53" fill="#c0c0c0"/>
<rect x="447" y="641" width="1" height="50" fill="#c0c0c0"/>
<rect x="455" y="640" width="1" height="51" fill="#c0c0c0"/>
<rect x="463" y="640" width="1" height="51" fill="#c0c0c0"/>
<rect x="471" y="642" width="1" height="49" fill="#c0c0c0"/>
<rect x="479" y="637" width="1" height="54" fill="#c0c0c0"/>
<rect x="487" y="634" width="1" height="57" fill="#c0c0c0"/>
<rect x="495" y="634" width="1" height="57" fill="#c0c0c0"/>
<rect x="503" y="631" width="1" height="60" fill="#c0c0c0"/>
<rect x="511" y="628" width="1" height="63" fill="#c0c0c0"/>
<rect x="519" y="630" width="1" height="61" fill="#c0c0c0"/>
<rect x="527" y="631" width="1" height="60" fill="#c0c0c0"/>
<rect x="535" y="629" width="1" height="62" fill="#c0c0c0"/>
<rect x="543" y="626" width="1" height="65" fill="#c0c0c0"/>
<rect x="551" y="624" width="1" height="67" fill="#c0c0c0"/>
<rect x="559" y="624" width="1" height="67" fill="#c0c0c0"/>
<rect x="567" y="626" width="1" height="65" fill="#c0c0c0"/>
<rect x="575" y="629" width="1" height="62" fill="#c0c0c0"/>
<rect x="583" y="630" width="1" height="61" fill="#c0c0c0"/>
<rect x="591" y="623" width="1" height="68" fill="#c0c0c0"/>
<rect x="599" y="617" width="1" height="74" fill="#c0c0c0"/>
<rect x="607" y="612" width="1" height="79" fill="#c0c0c0"/>
<rect x="615" y="610" width="1" height="81" fill="#c0c0c0"/>
<rect x="623" y="607" width="1" height="84" fill="#c0c0c0"/>
<rect x="631" y="605" width="1" height="86" fill="#c0c0c0"/>
<rect x="639" y="600" width="1" height="91" fill="#c0c0c0"/>
<rect x="647" y="597" width="1" height="94" fill="#c0c0c0"/>
<rect x="655" y="599" width="1" height="92" fill="#c0c0c0"/>
<rect x="663" y="602" width="1" height="89" fill="#c0c0c0"/>
<rect x="671" y="608" width="1" height="83" fill="#c0c0c0"/>
<rect x="679" y="610" width="1" height="81" fill="#c0c0c0"/>
<rect x="687" y="613" width="1" height="78" fill="#c0c0c0"/>
<rect x="695" y="613" width="1" height="78" fill="#c0c0c0"/>
<rect x="703" y="617" width="1" height="74" fill="#c0c0c0"/>
<rect x="711" y="618" width="1" height="73" fill="#c0c0c0"/>
<rect x="719" y="613" width="1" height="78" fill="#c0c0c0"/>
<rect x="727" y="609" width="1" height="82" fill="#c0c0c0"/>
<rect x="735" y="605" width="1" height="86" fill="#c0c0c0"/>
<rect x="743" y="607" width="1" height="84" fill="#c0c0c0"/>
<rect x="751" y="601" width="1" height="90" fill="#c0c0c0"/>
<rect x="759" y="592" width="1" height="99" fill="#c0c0c0"/>
<rect x="767" y="591" width="1" height="100" fill="#c0c0c0"/>
<rect x="775" y="593" width="1" height="98" fill="#c0c0c0"/>
<rect x="783" y="598" width="1" height="93" fill="#c0c0c0"/>
<rect x="791" y="604" width="1" height="87" fill="#c0c0c0"/>
<rect x="799" y="604" width="1" height="87" fill="#c0c0c0"/>
<rect x="807" y="607" width="1" height="84" fill="#c0c0c0"/>
<rect x="815" y="608" width="1" height="83" fill="#c0c0c0"/>
<rect x="823" y="616" width="1" height="75" fill="#c0c0c0"/>
<rect x="831" y="626" width="1" height="65" fill="#c0c0c0"/>
<rect x="839" y="634" width="1" height="57" fill="#c0c0c0"/>
<rect x="847" y="638" width="1" height="53" fill="#c0c0c0"/>
<rect x="855" y="638" width="1" height="53" fill="#c0c0c0"/>
<rect x="863" y="638" width="1" height="53" fill="#c0c0c0"/>
<rect x="871" y="643" width="1" height="48" fill="#c0c0c0"/>
<rect x="879" y="647" width="1" height="44" fill="#c0c0c0"/>
<rect x="887" y="651" width="1" height="40" fill="#c0c0c0"/>
<rect x="895" y="651" width="1" height="40" fill="#c0c0c0"/>
<rect x="903" y="661" width="1" height="30" fill="#c0c0c0"/>
<rect x="911" y="668" width="1" height="23" fill="#c0c0c0"/>
<rect x="919" y="676" width="1" height="15" fill="#c0c0c0"/>
<rect x="927" y="684" width="1" height="7" fill="#c0c0c0"/>
<rect x="935" y="689" width="1" height="2" fill="#c0c0c0"/>
<rect x="943" y="690" width="1" height="7" fill="#c0c0c0"/>
<rect x="951" y="690" width="1" height="10" fill="#c0c0c0"/>
<rect x="959" y="690" width="1" height="15" fill="#c0c0c0"/>
<rect x="967" y="690" width="1" height="12" fill="#c0c0c0"/>
<rect x="975" y="690" width="1" height="9" fill="#c0c0c0"/>
<rect x="983" y="690" width="1" height="4" fill="#c0c0c0"/>
<rect x="991" y="686" width="1" height="5" fill="#c0c0c0"/>
<rect x="999" y="682" width="1" height="9" fill="#c0c0c0"/>
<rect x="1007" y="676" width="1" height="15" fill="#c0c0c0"/>
<rect x="1015" y="671" width="1" height="20" fill="#c0c0c0"/>
<rect x="1023" y="667" width="1" height="24" fill="#c0c0c0"/>
<rect x="1031" y="662" width="1" height="29" fill="#c0c0c0"/>
<rect x="1039" y="663" width="1" height="28" fill="#c0c0c0"/>
<rect x="1047" y="662" width="1" height="29" fill="#c0c0c0"/>
<rect x="1055" y="661" width="1" height="30" fill="#c0c0c0"/>
<rect x="1063" y="651" width="1" height="40" fill="#c0c0c0"/>
<rect x="1071" y="642" width="1" height="49" fill="#c0c0c0"/>
<rect x="1079" y="632" width="1" height="59" fill="#c0c0c0"/>
<rect x="1087" y="626" width="1" height="65" fill="#c0c0c0"/>
<rect x="1095" y="616" width="1" height="75" fill="#c0c0c0"/>
<rect x="1103" y="619" width="1" height="72" fill="#c0c0c0"/>
<rect x="1111" y="637" width="1" height="54" fill="#c0c0c0"/>
<rect x="1119" y="648" width="1" height="43" fill="#c0c0c0"/>
<rect x="1127" y="654" width="1" height="37" fill="#c0c0c0"/>
<rect x="1135" y="655" width="1" height="36" fill="#c0c0c0"/>
<rect x="1143" y="663" width="1" height="28" fill="#c0c0c0"/>
<rect x="1151" y="673" width="1" height="18" fill="#c0c0c0"/>
<rect x="1159" y="684" width="1" height="7" fill="#c0c0c0"/>
<rect x="1167" y="690" width="1" height="1" fill="#c0c0c0"/>
<rect x="1175" y="690" width="1" height="11" fill="#c0c0c0"/>
<rect x="1183" y="690" width="1" height="13" fill="#c0c0c0"/>
<rect x="1191" y="690" width="1" height="13" fill="#c0c0c0"/>
<rect x="1199" y="690" width="1" height="8" fill="#c0c0c0"/>
<rect x="1207" y="690" width="1" height="6" fill="#c0c0c0"/>
<rect x="1215" y="690" width="1" height="5" fill="#c0c0c0"/>
<rect x="1223" y="690" width="1" height="5" fill="#c0c0c0"/>
<rect x="1231" y="690" width="1" height="5" fill="#c0c0c0"/>
<rect x="1239" y="687" width="1" height="4" fill="#c0c0c0"/>
<rect x="1247" y="688" width="1" height="3" fill="#c0c0c0"/>
<rect x="1255" y="689" width="1" height="2" fill="#c0c0c0"/>
<rect x="1263" y="690" width="1" height="4" fill="#c0c0c0"/>
<rect x="1271" y="690" width="1" height="4" fill="#c0c0c0"/>
<rect x="1279" y="690" width="1" height="17" fill="#c0c0c0"/>
<rect x="1287" y="690" width="1" height="29" fill="#c0c0c0"/>
<rect x="1295" y="690" width="1" height="38" fill="#c0c0c0"/>
<rect x="1303" y="690" width="1" height="42" fill="#c0c0c0"/>
<rect x="1311" y="690" width="1" height="43" fill="#c0c0c0"/>
<rect x="1319" y="690" width="1" height="43" fill="#c0c0c0"/>
<rect x="1327" y="690" width="1" height="46" fill="#c0c0c0"/>
<rect x="1335" y="690" width="1" height="48" fill="#c0c0c0"/>
<rect x="1343" y="690" width="1" height="47" fill="#c0c0c0"/>
<rect x="1351" y="690" width="1" height="46" fill="#c0c0c0"/>
<rect x="1359" y="690" width="1" height="41" fill="#c0c0c0"/>
<rect x="1367" y="690" width="1" height="36" fill="#c0c0c0"/>
<rect x="1375" y="690" width="1" height="37" fill="#c0c0c0"/>
<rect x="1383" y="690" width="1" height="33" fill="#c0c0c0"/>
<rect x="1391" y="690" width="1" height="32" fill="#c0c0c0"/>
<rect x="1399" y="690" width="1" height="31" fill="#c0c0c0"/>
<rect x="1407" y="690" width="1" height="30" fill="#c0c0c0"/>
<rect x="1415" y="690" width="1" height="28" fill="#c0c0c0"/>
<path d="M-1 652h2v1h-2zM1 653h1v1h-1zM5 654h1v1h-1zM6 655h2v1h-2zM11 657h3v1h-3zM17 658h2v1h-2zM19 659h1v1h-1zM23 659h3v1h-3zM29 660h3v1h-3zM35 661h2v1h-2zM37 662h1v1h-1zM41 663h2v1h-2zM43 664h1v1h-1zM47 665h1v1h-1zM48 666h2v1h-2zM53 669h2v1h-2zM55 670h1v1h-1zM59 673h1v1h-1zM60 674h1v1h-1zM61 675h1v1h-1zM65 678h1v1h-1zM66 679h1v1h-1zM67 680h1v1h-1zM71 684h1v1h-1zM72 685h1v1h-1zM73 686h1v1h-1zM76 690h1v1h-1zM77 691h1v1h-1zM78 692h1v1h-1zM81 696h1v1h-1zM82 697h1v1h-1zM83 698h1v1h-1zM86 702h1v1h-1zM87 703h1v1h-1zM88 704h1v1h-1zM91 708h1v1h-1zM92 709h1v1h-1zM93 710h1v1h-1zM97 714h1v1h-1zM98 715h1v1h-1zM99 716h1v1h-1zM103 720h1v1h-1zM104 721h1v1h-1zM105 722h1v1h-1zM109 725h2v1h-2zM111 726h1v1h-1zM115 729h2v1h-2zM117 730h1v1h-1zM121 732h3v1h-3zM127 733h3v1h-3zM133 733h3v1h-3zM139 732h2v1h-2zM141 731h1v1h-1zM145 730h2v1h-2zM147 729h1v1h-1zM151 728h2v1h-2zM153 727h1v1h-1zM157 726h1v1h-1zM158 725h2v1h-2zM163 723h1v1h-1zM164 722h2v1h-2zM169 720h1v1h-1zM170 719h2v1h-2zM175 717h1v1h-1zM176 716h2v1h-2zM181 714h1v1h-1zM182 713h2v1h-2zM187 711h3v1h-3zM193 709h2v1h-2zM195 708h1v1h-1zM199 707h3v1h-3zM205 706h3v1h-3zM211 705h3v1h-3zM217 705h3v1h-3zM223 705h3v1h-3zM229 706h3v1h-3zM235 708h3v1h-3zM241 710h3v1h-3zM247 711h2v1h-2zM249 712h1v1h-1zM253 713h1v1h-1zM254 714h2v1h-2zM259 716h3v1h-3zM265 717h2v1h-2zM267 718h1v1h-1zM271 718h3v1h-3zM277 719h3v1h-3zM283 719h3v1h-3zM289 719h3v1h-3zM295 719h3v1h-3zM301 718h3v1h-3zM307 718h3v1h-3zM313 718h2v1h-2zM315 719h1v1h-1zM319 719h3v1h-3zM325 719h3v1h-3zM331 719h3v1h-3zM337 719h2v1h-2zM339 718h1v1h-1zM343 718h2v1h-2zM345 717h1v1h-1zM349 716h1v1h-1zM350 715h2v1h-2zM355 713h1v1h-1zM356 712h2v1h-2zM361 710h1v1h-1zM362 709h1v1h-1zM363 708h1v1h-1zM367 706h1v1h-1zM368 705h1v1h-1zM369 704h1v1h-1zM373 700h1v1h-1zM374 699h1v1h-1zM375 698h1v1h-1zM379 694h1v1h-1zM380 693h1v1h-1zM381 692h1v1h-1zM385 688h1v1h-1zM386 687h1v1h-1zM387 686h1v1h-1zM390 682h1v1h-1zM391 681h1v1h-1zM392 680h1v1h-1zM395 676h1v1h-1zM396 675h1v1h-1zM397 674h1v1h-1zM401 670h1v1h-1zM402 669h1v1h-1zM403 668h1v1h-1zM407 664h1v1h-1zM408 663h1v1h-1zM409 662h1v1h-1zM413 659h1v1h-1zM414 658h1v1h-1zM415 657h1v1h-1zM419 654h1v1h-1zM420 653h1v1h-1zM421 652h1v1h-1zM425 650h1v1h-1zM426 649h2v1h-2zM431 647h2v1h-2zM433 646h1v1h-1zM437 645h1v1h-1zM438 644h2v1h-2zM443 643h3v1h-3zM449 642h3v1h-3zM455 641h3v1h-3zM461 641h3v1h-3zM467 640h3v1h-3zM473 640h2v1h-2zM475 639h1v1h-1zM479 639h3v1h-3zM485 639h3v1h-3zM491 638h3v1h-3zM497 638h2v1h-2zM499 637h1v1h-1zM503 637h3v1h-3zM509 636h3v1h-3zM515 635h3v1h-3zM521 635h2v1h-2zM523 634h1v1h-1zM527 634h3v1h-3zM533 633h3v1h-3zM539 632h2v1h-2zM541 631h1v1h-1zM545 630h3v1h-3zM551 629h3v1h-3zM557 628h3v1h-3zM563 628h3v1h-3zM569 628h2v1h-2zM571 627h1v1h-1zM575 627h3v1h-3zM581 628h3v1h-3zM587 627h3v1h-3zM593 626h3v1h-3zM599 625h2v1h-2zM601 624h1v1h-1zM605 623h3v1h-3zM611 622h3v1h-3zM617 621h3v1h-3zM623 620h2v1h-2zM625 619h1v1h-1zM629 618h3v1h-3zM635 616h3v1h-3zM641 614h1v1h-1zM642 613h2v1h-2zM647 611h2v1h-2zM649 610h1v1h-1zM653 609h1v1h-1zM654 608h2v1h-2zM659 607h2v1h-2zM661 606h1v1h-1zM665 605h3v1h-3zM671 604h3v1h-3zM677 604h3v1h-3zM683 605h3v1h-3zM689 605h3v1h-3zM695 605h2v1h-2zM697 606h1v1h-1zM701 607h3v1h-3zM707 608h2v1h-2zM709 609h1v1h-1zM713 609h2v1h-2zM715 610h1v1h-1zM719 610h3v1h-3zM725 611h3v1h-3zM731 612h3v1h-3zM737 612h3v1h-3zM743 612h3v1h-3zM749 611h3v1h-3zM755 610h2v1h-2zM757 609h1v1h-1zM761 608h2v1h-2zM763 607h1v1h-1zM767 606h2v1h-2zM769 605h1v1h-1zM773 604h1v1h-1zM774 603h2v1h-2zM779 602h2v1h-2zM781 601h1v1h-1zM785 601h2v1h-2zM787 600h1v1h-1zM791 600h3v1h-3zM797 600h3v1h-3zM803 600h3v1h-3zM809 600h3v1h-3zM815 600h2v1h-2zM817 601h1v1h-1zM821 602h3v1h-3zM827 604h3v1h-3zM833 606h1v1h-1zM834 607h1v1h-1zM835 608h1v1h-1zM839 610h1v1h-1zM840 611h2v1h-2zM845 614h2v1h-2zM847 615h1v1h-1zM851 618h2v1h-2zM853 619h1v1h-1zM857 621h2v1h-2zM859 622h1v1h-1zM863 623h1v1h-1zM864 624h2v1h-2zM869 627h2v1h-2zM871 628h1v1h-1zM875 630h1v1h-1zM876 631h2v1h-2zM881 633h1v1h-1zM882 634h1v1h-1zM883 635h1v1h-1zM887 637h1v1h-1zM888 638h2v1h-2zM893 640h1v1h-1zM894 641h2v1h-2zM899 643h3v1h-3zM905 645h1v1h-1zM906 646h2v1h-2zM911 648h1v1h-1zM912 649h2v1h-2zM917 651h1v1h-1zM918 652h2v1h-2zM923 655h1v1h-1zM924 656h1v1h-1zM925 657h1v1h-1zM929 659h1v1h-1zM930 660h1v1h-1zM931 661h1v1h-1zM935 663h1v1h-1zM936 664h1v1h-1zM937 665h1v1h-1zM941 668h2v1h-2zM943 669h1v1h-1zM947 672h1v1h-1zM948 673h1v1h-1zM949 674h1v1h-1zM953 677h2v1h-2zM955 678h1v1h-1zM959 681h1v1h-1zM960 682h2v1h-2zM965 685h2v1h-2zM967 686h1v1h-1zM971 689h2v1h-2zM973 690h1v1h-1zM977 692h3v1h-3zM983 693h3v1h-3zM989 694h3v1h-3zM995 694h3v1h-3zM1001 694h2v1h-2zM1003 693h1v1h-1zM1007 693h2v1h-2zM1009 692h1v1h-1zM1013 691h1v1h-1zM1014 690h2v1h-2zM1019 688h1v1h-1zM1020 687h2v1h-2zM1025 685h1v1h-1zM1026 684h2v1h-2zM1031 682h1v1h-1zM1032 681h2v1h-2zM1037 679h1v1h-1zM1038 678h2v1h-2zM1043 676h1v1h-1zM1044 675h2v1h-2zM1049 673h1v1h-1zM1050 672h2v1h-2zM1055 670h1v1h-1zM1056 669h2v1h-2zM1061 667h1v1h-1zM1062 666h2v1h-2zM1067 664h1v1h-1zM1068 663h2v1h-2zM1073 661h1v1h-1zM1074 660h1v1h-1zM1075 659h1v1h-1zM1079 657h1v1h-1zM1080 656h2v1h-2zM1085 653h2v1h-2zM1087 652h1v1h-1zM1091 649h1v1h-1zM1092 648h1v1h-1zM1093 647h1v1h-1zM1097 645h1v1h-1zM1098 644h1v1h-1zM1099 643h1v1h-1zM1103 641h2v1h-2zM1105 640h1v1h-1zM1109 639h3v1h-3zM1115 638h2v1h-2zM1117 637h1v1h-1zM1121 637h2v1h-2zM1123 636h1v1h-1zM1127 636h3v1h-3zM1133 637h3v1h-3zM1139 638h2v1h-2zM1141 639h1v1h-1zM1145 640h1v1h-1zM1146 641h1v1h-1zM1147 642h1v1h-1zM1151 644h1v1h-1zM1152 645h1v1h-1zM1153 646h1v1h-1zM1157 649h2v1h-2zM1159 650h1v1h-1zM1163 654h1v1h-1zM1164 655h1v1h-1zM1165 656h1v1h-1zM1169 660h1v1h-1zM1170 661h1v1h-1zM1171 662h1v1h-1zM1174 666h1v1h-1zM1175 667h1v1h-1zM1176 668h1v1h-1zM1180 671h1v1h-1zM1181 672h1v1h-1zM1182 673h1v1h-1zM1186 676h1v1h-1zM1187 677h1v1h-1zM1188 678h1v1h-1zM1192 681h2v1h-2zM1194 682h1v1h-1zM1198 684h1v1h-1zM1199 685h1v1h-1zM1200 686h1v1h-1zM1204 688h1v1h-1zM1205 689h2v1h-2zM1210 691h1v1h-1zM1211 692h2v1h-2zM1216 693h1v1h-1zM1217 694h2v1h-2zM1222 695h3v1h-3zM1228 696h3v1h-3zM1234 696h3v1h-3zM1240 696h3v1h-3zM1246 695h3v1h-3zM1252 694h1v1h-1zM1253 693h2v1h-2zM1258 693h1v1h-1zM1259 692h2v1h-2zM1264 692h3v1h-3zM1270 692h3v1h-3zM1276 693h3v1h-3zM1282 694h1v1h-1zM1283 695h2v1h-2zM1288 697h2v1h-2zM1290 698h1v1h-1zM1294 700h2v1h-2zM1296 701h1v1h-1zM1300 703h2v1h-2zM1302 704h1v1h-1zM1306 706h1v1h-1zM1307 707h2v1h-2zM1312 710h2v1h-2zM1314 711h1v1h-1zM1318 713h2v1h-2zM1320 714h1v1h-1zM1324 717h1v1h-1zM1325 718h2v1h-2zM1330 721h2v1h-2zM1332 722h1v1h-1zM1336 724h2v1h-2zM1338 725h1v1h-1zM1342 727h1v1h-1zM1343 728h2v1h-2zM1348 730h2v1h-2zM1350 731h1v1h-1zM1354 732h3v1h-3zM1360 733h3v1h-3zM1366 733h3v1h-3zM1372 732h3v1h-3zM1378 732h1v1h-1zM1379 731h2v1h-2zM1384 731h3v1h-3zM1390 730h3v1h-3zM1396 729h1v1h-1zM1397 728h2v1h-2zM1402 727h3v1h-3zM1408 726h1v1h-1zM1409 725h2v1h-2zM1414 724h2v1h-2z" fill="#ff0000"/>
</g>
<text x="3" y="595.5" font-size="9.4" fill="#000" textLength="154" lengthAdjust="spacingAndGlyphs">MACD(12,26,9) -0.002257 -0.002857</text>
<text x="1690" y="593" font-size="9.4" fill="#000" textLength="38.5" lengthAdjust="spacingAndGlyphs">0.009081</text>
<text x="1690.5" y="694" font-size="9.4" fill="#000" textLength="18" lengthAdjust="spacingAndGlyphs">0.00</text>
<text x="1690" y="749" font-size="9.4" fill="#000" textLength="40.5" lengthAdjust="spacingAndGlyphs">-0.005306</text>
<rect x="1687" y="690" width="2" height="1" fill="#000" shape-rendering="crispEdges"/>
<g shape-rendering="crispEdges">
<line x1="0" y1="790.5" x2="1686" y2="790.5" stroke="#c0c0c0" stroke-width="1" stroke-dasharray="3,3"/>
<line x1="0" y1="841.5" x2="1686" y2="841.5" stroke="#c0c0c0" stroke-width="1" stroke-dasharray="3,3"/>
<line x1="0" y1="902.5" x2="1686" y2="902.5" stroke="#c0c0c0" stroke-width="1" stroke-dasharray="3,3"/>
</g>
<g clip-path="url(#c3)" shape-rendering="crispEdges">
<path d="M-1 829h9v1h-9zM8 828h2v1h-2zM10 827h2v1h-2zM12 826h2v1h-2zM14 825h2v1h-2zM16 826h2v1h-2zM18 827h1v1h-1zM19 828h2v1h-2zM21 829h2v1h-2zM23 830h2v1h-2zM25 831h4v1h-4zM29 832h3v1h-3zM31 833h1v1h-1zM32 834h1v2h-1zM33 836h1v2h-1zM34 838h1v3h-1zM35 841h1v2h-1zM36 843h1v3h-1zM37 846h1v2h-1zM38 848h1v2h-1zM39 850h1v2h-1zM40 852h1v2h-1zM41 854h1v1h-1zM42 855h1v1h-1zM43 856h1v2h-1zM44 858h1v1h-1zM45 859h1v1h-1zM46 860h1v2h-1zM47 862h1v1h-1zM48 863h1v2h-1zM49 865h1v2h-1zM50 867h1v2h-1zM51 869h1v2h-1zM52 871h1v2h-1zM53 873h1v2h-1zM54 875h1v2h-1zM55 877h1v2h-1zM56 878h3v1h-3zM59 879h5v1h-5zM64 880h2v1h-2zM66 881h2v1h-2zM68 882h2v1h-2zM70 883h2v1h-2zM72 882h1v1h-1zM73 881h2v1h-2zM75 880h1v1h-1zM76 879h1v1h-1zM77 878h2v1h-2zM79 877h1v1h-1zM80 875h1v2h-1zM81 873h1v2h-1zM82 871h1v2h-1zM83 869h1v2h-1zM84 867h1v2h-1zM85 865h1v2h-1zM86 863h1v2h-1zM87 862h1v1h-1zM88 860h1v2h-1zM89 859h1v1h-1zM90 857h1v2h-1zM91 856h1v1h-1zM92 854h1v2h-1zM93 853h1v1h-1zM94 851h1v2h-1zM95 850h1v1h-1zM96 849h2v1h-2zM98 848h2v1h-2zM100 847h2v1h-2zM102 846h3v1h-3zM105 845h2v1h-2zM107 844h3v1h-3zM110 843h2v1h-2zM112 844h2v1h-2zM114 845h2v1h-2zM116 846h2v1h-2zM118 847h2v1h-2zM120 846h2v1h-2zM122 845h2v1h-2zM124 844h2v1h-2zM126 843h2v1h-2zM128 842h2v1h-2zM130 841h2v1h-2zM132 840h2v1h-2zM134 839h2v1h-2zM135 840h1v1h-1zM136 841h1v2h-1zM137 843h1v2h-1zM138 845h1v2h-1zM139 847h1v2h-1zM140 849h1v2h-1zM141 851h1v2h-1zM142 853h1v2h-1zM143 855h1v2h-1zM144 855h1v1h-1zM145 854h1v1h-1zM146 853h1v1h-1zM147 852h2v1h-2zM149 851h1v1h-1zM150 850h1v1h-1zM151 849h1v1h-1zM152 848h1v1h-1zM153 847h1v1h-1zM154 846h1v1h-1zM155 845h1v1h-1zM156 844h1v1h-1zM157 843h1v1h-1zM158 842h1v1h-1zM159 841h1v1h-1zM160 840h1v1h-1zM161 838h1v2h-1zM162 837h1v1h-1zM163 836h1v1h-1zM164 835h1v1h-1zM165 833h1v2h-1zM166 832h1v1h-1zM167 831h2v1h-2zM169 832h4v1h-4zM173 833h4v1h-4zM177 834h2v1h-2zM179 835h3v1h-3zM182 836h2v1h-2zM184 837h1v1h-1zM185 838h1v1h-1zM186 839h1v1h-1zM187 840h1v2h-1zM188 842h1v1h-1zM189 843h1v1h-1zM190 844h1v1h-1zM191 845h1v1h-1zM192 846h2v1h-2zM194 847h1v1h-1zM195 848h2v1h-2zM197 849h2v1h-2zM199 850h1v1h-1zM200 851h1v1h-1zM201 852h1v1h-1zM202 853h1v1h-1zM203 854h1v2h-1zM204 856h1v1h-1zM205 857h1v1h-1zM206 858h1v1h-1zM207 859h10v1h-10zM217 858h4v1h-4zM221 857h3v1h-3zM224 858h1v1h-1zM225 859h1v1h-1zM226 860h1v1h-1zM227 861h2v1h-2zM229 862h1v1h-1zM230 863h1v1h-1zM231 864h9v1h-9zM240 862h1v2h-1zM241 860h1v2h-1zM242 858h1v2h-1zM243 857h1v1h-1zM244 855h1v2h-1zM245 853h1v2h-1zM246 851h1v2h-1zM247 850h1v1h-1zM248 849h2v1h-2zM250 848h1v1h-1zM251 847h2v1h-2zM253 846h2v1h-2zM255 845h2v1h-2zM257 844h4v1h-4zM261 843h6v1h-6zM267 844h6v1h-6zM273 845h2v1h-2zM275 846h3v1h-3zM278 847h3v1h-3zM281 846h4v1h-4zM285 845h3v1h-3zM288 846h1v2h-1zM289 848h1v2h-1zM290 850h1v2h-1zM291 852h1v2h-1zM292 854h1v2h-1zM293 856h1v2h-1zM294 858h1v2h-1zM295 860h2v1h-2zM297 861h2v1h-2zM299 862h3v1h-3zM302 863h3v1h-3zM305 864h4v1h-4zM309 865h3v1h-3zM312 866h2v1h-2zM314 867h2v1h-2zM316 868h2v1h-2zM318 869h2v1h-2zM320 867h1v2h-1zM321 865h1v2h-1zM322 863h1v2h-1zM323 861h1v2h-1zM324 859h1v2h-1zM325 857h1v2h-1zM326 855h1v2h-1zM327 853h1v2h-1zM328 849h1v4h-1zM329 845h1v4h-1zM330 842h1v3h-1zM331 838h1v4h-1zM332 835h1v3h-1zM333 831h1v4h-1zM334 827h1v4h-1zM335 825h1v2h-1zM336 826h2v1h-2zM338 827h2v1h-2zM340 828h2v1h-2zM342 829h2v1h-2zM344 827h1v2h-1zM345 826h1v1h-1zM346 824h1v2h-1zM347 823h1v1h-1zM348 821h1v2h-1zM349 820h1v1h-1zM350 818h1v2h-1zM351 817h4v1h-4zM355 816h6v1h-6zM361 815h4v1h-4zM365 814h4v1h-4zM369 815h4v1h-4zM373 816h6v1h-6zM379 815h8v1h-8zM387 816h5v1h-5zM392 817h1v2h-1zM393 819h1v1h-1zM394 820h1v1h-1zM395 821h1v2h-1zM396 823h1v1h-1zM397 824h1v1h-1zM398 825h1v2h-1zM399 827h1v1h-1zM400 826h2v1h-2zM402 825h2v1h-2zM404 824h2v1h-2zM406 823h2v1h-2zM408 822h2v1h-2zM410 821h1v1h-1zM411 820h2v1h-2zM413 819h2v1h-2zM415 818h1v1h-1zM416 817h2v1h-2zM418 816h2v1h-2zM420 815h2v1h-2zM422 814h2v1h-2zM424 815h1v1h-1zM425 816h2v1h-2zM427 817h1v1h-1zM428 818h1v1h-1zM429 819h2v1h-2zM431 820h9v1h-9zM440 821h1v1h-1zM441 822h1v1h-1zM442 823h1v1h-1zM443 824h1v2h-1zM444 826h1v1h-1zM445 827h1v1h-1zM446 828h1v1h-1zM447 829h1v1h-1zM448 828h1v1h-1zM449 827h1v1h-1zM450 826h1v1h-1zM451 824h1v2h-1zM452 823h1v1h-1zM453 822h1v1h-1zM454 821h1v1h-1zM455 820h9v1h-9zM464 821h2v1h-2zM466 822h1v1h-1zM467 823h2v1h-2zM469 824h2v1h-2zM471 825h1v1h-1zM472 823h1v2h-1zM473 822h1v1h-1zM474 820h1v2h-1zM475 819h1v1h-1zM476 817h1v2h-1zM477 816h1v1h-1zM478 814h1v2h-1zM479 813h4v1h-4zM483 814h6v1h-6zM489 815h4v1h-4zM493 816h3v1h-3zM496 815h2v1h-2zM498 814h1v1h-1zM499 813h2v1h-2zM501 812h2v1h-2zM503 811h2v1h-2zM505 810h4v1h-4zM509 809h3v1h-3zM512 810h1v2h-1zM513 812h1v2h-1zM514 814h1v2h-1zM515 816h1v1h-1zM516 817h1v2h-1zM517 819h1v2h-1zM518 821h1v2h-1zM519 823h1v1h-1zM520 822h2v1h-2zM522 821h1v1h-1zM523 820h2v1h-2zM525 819h2v1h-2zM527 818h1v1h-1zM528 817h2v1h-2zM530 816h1v1h-1zM531 815h2v1h-2zM533 814h2v1h-2zM535 813h1v1h-1zM536 812h2v1h-2zM538 811h2v1h-2zM540 810h2v1h-2zM542 809h10v1h-10zM552 810h2v1h-2zM554 811h2v1h-2zM556 812h2v1h-2zM558 813h2v1h-2zM560 814h2v1h-2zM562 815h2v1h-2zM564 816h2v1h-2zM566 817h3v1h-3zM569 818h2v1h-2zM571 819h3v1h-3zM574 820h2v1h-2zM576 819h1v1h-1zM577 818h2v1h-2zM579 817h1v1h-1zM580 816h1v1h-1zM581 815h2v1h-2zM583 814h1v1h-1zM584 812h1v2h-1zM585 810h1v2h-1zM586 808h1v2h-1zM587 807h1v1h-1zM588 805h1v2h-1zM589 803h1v2h-1zM590 801h1v2h-1zM591 800h4v1h-4zM595 799h6v1h-6zM601 798h4v1h-4zM605 797h3v1h-3zM608 798h1v1h-1zM609 799h2v1h-2zM611 800h1v1h-1zM612 801h1v1h-1zM613 802h2v1h-2zM615 803h2v1h-2zM617 802h2v1h-2zM619 801h3v1h-3zM622 800h3v1h-3zM625 799h4v1h-4zM629 798h3v1h-3zM632 797h1v1h-1zM633 796h2v1h-2zM635 795h1v1h-1zM636 794h1v1h-1zM637 793h2v1h-2zM639 792h9v1h-9zM648 793h1v2h-1zM649 795h1v1h-1zM650 796h1v2h-1zM651 798h1v1h-1zM652 799h1v2h-1zM653 801h1v1h-1zM654 802h1v2h-1zM655 804h1v1h-1zM656 805h2v1h-2zM658 806h1v1h-1zM659 807h2v1h-2zM661 808h2v1h-2zM663 809h1v1h-1zM664 810h1v1h-1zM665 811h1v1h-1zM666 812h1v1h-1zM667 813h1v1h-1zM668 814h1v1h-1zM669 815h1v1h-1zM670 816h1v1h-1zM671 817h1v1h-1zM672 816h1v1h-1zM673 815h2v1h-2zM675 814h1v1h-1zM676 813h1v1h-1zM677 812h2v1h-2zM679 811h4v1h-4zM683 810h5v1h-5zM688 809h2v1h-2zM690 808h2v1h-2zM692 807h2v1h-2zM694 806h2v1h-2zM696 807h1v1h-1zM697 808h1v2h-1zM698 810h1v1h-1zM699 811h1v1h-1zM700 812h1v1h-1zM701 813h1v2h-1zM702 815h1v1h-1zM703 816h1v1h-1zM704 815h2v1h-2zM706 814h1v1h-1zM707 813h2v1h-2zM709 812h2v1h-2zM711 811h1v1h-1zM712 809h1v2h-1zM713 808h1v1h-1zM714 806h1v2h-1zM715 805h1v1h-1zM716 803h1v2h-1zM717 802h1v1h-1zM718 800h1v2h-1zM719 799h4v1h-4zM723 798h6v1h-6zM729 797h4v1h-4zM733 796h3v1h-3zM736 797h1v2h-1zM737 799h1v2h-1zM738 801h1v2h-1zM739 803h1v2h-1zM740 805h1v2h-1zM741 807h1v2h-1zM742 809h1v2h-1zM743 811h1v1h-1zM744 809h1v2h-1zM745 808h1v1h-1zM746 806h1v2h-1zM747 805h1v1h-1zM748 803h1v2h-1zM749 802h1v1h-1zM750 800h1v2h-1zM751 799h1v1h-1zM752 798h2v1h-2zM754 797h1v1h-1zM755 796h2v1h-2zM757 795h2v1h-2zM759 794h1v1h-1zM760 795h1v2h-1zM761 797h1v2h-1zM762 799h1v1h-1zM763 800h1v2h-1zM764 802h1v1h-1zM765 803h1v2h-1zM766 805h1v2h-1zM767 807h1v1h-1zM768 808h1v1h-1zM769 809h2v1h-2zM771 810h1v1h-1zM772 811h1v1h-1zM773 812h2v1h-2zM775 813h1v1h-1zM776 814h1v1h-1zM777 815h1v1h-1zM778 816h1v1h-1zM779 817h2v1h-2zM781 818h1v1h-1zM782 819h1v1h-1zM783 820h2v1h-2zM785 821h2v1h-2zM787 822h3v1h-3zM790 823h2v1h-2zM792 822h1v1h-1zM793 820h1v2h-1zM794 819h1v1h-1zM795 818h1v1h-1zM796 817h1v1h-1zM797 815h1v2h-1zM798 814h1v1h-1zM799 813h1v1h-1zM800 814h1v1h-1zM801 815h1v1h-1zM802 816h1v1h-1zM803 817h1v1h-1zM804 818h1v1h-1zM805 819h1v1h-1zM806 820h1v1h-1zM807 821h1v1h-1zM808 820h2v1h-2zM810 819h1v1h-1zM811 818h2v1h-2zM813 817h2v1h-2zM815 816h1v1h-1zM816 817h1v2h-1zM817 819h1v2h-1zM818 821h1v2h-1zM819 823h1v2h-1zM820 825h1v2h-1zM821 827h1v2h-1zM822 829h1v2h-1zM823 831h1v2h-1zM824 833h2v1h-2zM826 834h2v1h-2zM828 835h2v1h-2zM830 836h10v1h-10zM840 835h2v1h-2zM842 834h1v1h-1zM843 833h2v1h-2zM845 832h2v1h-2zM847 831h1v1h-1zM848 830h1v1h-1zM849 829h1v1h-1zM850 828h1v1h-1zM851 827h2v1h-2zM853 826h1v1h-1zM854 825h1v1h-1zM855 824h4v1h-4zM859 823h5v1h-5zM864 824h1v1h-1zM865 825h1v2h-1zM866 827h1v1h-1zM867 828h1v1h-1zM868 829h1v1h-1zM869 830h1v2h-1zM870 832h1v1h-1zM871 833h4v1h-4zM875 834h13v1h-13zM888 833h1v1h-1zM889 832h1v1h-1zM890 831h1v1h-1zM891 830h1v1h-1zM892 829h1v1h-1zM893 828h1v1h-1zM894 827h1v1h-1zM895 826h1v2h-1zM896 828h1v3h-1zM897 831h1v2h-1zM898 833h1v3h-1zM899 836h1v3h-1zM900 839h1v3h-1zM901 842h1v2h-1zM902 844h1v3h-1zM903 847h1v2h-1zM904 847h2v1h-2zM906 846h2v1h-2zM908 845h2v1h-2zM910 844h2v1h-2zM912 845h1v1h-1zM913 846h2v1h-2zM915 847h1v1h-1zM916 848h1v1h-1zM917 849h2v1h-2zM919 850h2v1h-2zM921 851h2v1h-2zM923 852h3v1h-3zM926 853h3v1h-3zM929 852h2v1h-2zM931 851h3v1h-3zM934 850h2v1h-2zM936 851h2v1h-2zM938 852h1v1h-1zM939 853h2v1h-2zM941 854h2v1h-2zM943 855h1v1h-1zM944 854h1v1h-1zM945 853h1v1h-1zM946 852h1v1h-1zM947 851h2v1h-2zM949 850h1v1h-1zM950 849h1v1h-1zM951 848h1v1h-1zM952 849h1v1h-1zM953 850h2v1h-2zM955 851h1v1h-1zM956 852h1v1h-1zM957 853h2v1h-2zM959 854h1v1h-1zM960 852h1v2h-1zM961 850h1v2h-1zM962 848h1v2h-1zM963 847h1v1h-1zM964 845h1v2h-1zM965 843h1v2h-1zM966 841h1v2h-1zM967 840h2v1h-2zM969 839h4v1h-4zM973 838h3v1h-3zM976 837h1v1h-1zM977 836h2v1h-2zM979 835h1v1h-1zM980 834h1v1h-1zM981 833h2v1h-2zM983 832h1v1h-1zM984 831h2v1h-2zM986 830h1v1h-1zM987 829h2v1h-2zM989 828h2v1h-2zM991 827h1v1h-1zM992 828h2v1h-2zM994 829h2v1h-2zM996 830h2v1h-2zM998 831h2v1h-2zM1000 830h2v1h-2zM1002 829h1v1h-1zM1003 828h2v1h-2zM1005 827h2v1h-2zM1007 826h4v1h-4zM1011 825h6v1h-6zM1017 824h4v1h-4zM1021 823h3v1h-3zM1024 822h2v1h-2zM1026 821h2v1h-2zM1028 820h2v1h-2zM1030 819h2v1h-2zM1032 820h1v2h-1zM1033 822h1v2h-1zM1034 824h1v2h-1zM1035 826h1v1h-1zM1036 827h1v2h-1zM1037 829h1v2h-1zM1038 831h1v2h-1zM1039 833h1v1h-1zM1040 832h2v1h-2zM1042 831h2v1h-2zM1044 830h2v1h-2zM1046 829h3v1h-3zM1049 828h4v1h-4zM1053 827h3v1h-3zM1056 825h1v2h-1zM1057 823h1v2h-1zM1058 821h1v2h-1zM1059 819h1v2h-1zM1060 817h1v2h-1zM1061 815h1v2h-1zM1062 813h1v2h-1zM1063 811h1v2h-1zM1064 811h1v1h-1zM1065 810h4v1h-4zM1069 809h3v1h-3zM1072 808h2v1h-2zM1074 807h2v1h-2zM1076 806h2v1h-2zM1078 805h3v1h-3zM1081 806h4v1h-4zM1085 807h3v1h-3zM1088 806h1v1h-1zM1089 805h1v1h-1zM1090 804h1v1h-1zM1091 803h1v1h-1zM1092 802h1v1h-1zM1093 801h1v1h-1zM1094 800h1v1h-1zM1095 799h1v2h-1zM1096 801h1v4h-1zM1097 805h1v3h-1zM1098 808h1v4h-1zM1099 812h1v3h-1zM1100 815h1v4h-1zM1101 819h1v3h-1zM1102 822h1v4h-1zM1103 826h1v3h-1zM1104 829h1v3h-1zM1105 832h1v3h-1zM1106 835h1v3h-1zM1107 838h1v2h-1zM1108 840h1v3h-1zM1109 843h1v3h-1zM1110 846h1v3h-1zM1111 849h1v2h-1zM1112 849h1v1h-1zM1113 848h2v1h-2zM1115 847h1v1h-1zM1116 846h1v1h-1zM1117 845h2v1h-2zM1119 844h2v1h-2zM1121 843h2v1h-2zM1123 842h3v1h-3zM1126 841h2v1h-2zM1128 840h1v1h-1zM1129 839h1v1h-1zM1130 838h1v1h-1zM1131 837h2v1h-2zM1133 836h1v1h-1zM1134 835h1v1h-1zM1135 834h1v1h-1zM1136 835h1v1h-1zM1137 836h1v2h-1zM1138 838h1v1h-1zM1139 839h1v1h-1zM1140 840h1v1h-1zM1141 841h1v2h-1zM1142 843h1v1h-1zM1143 844h1v1h-1zM1144 845h2v1h-2zM1146 846h1v1h-1zM1147 847h2v1h-2zM1149 848h2v1h-2zM1151 849h2v1h-2zM1153 850h2v1h-2zM1155 851h3v1h-3zM1158 852h3v1h-3zM1161 851h2v1h-2zM1163 850h3v1h-3zM1166 849h2v1h-2zM1168 850h1v1h-1zM1169 851h1v1h-1zM1170 852h1v1h-1zM1171 853h2v1h-2zM1173 854h1v1h-1zM1174 855h1v1h-1zM1175 856h1v1h-1zM1176 855h1v1h-1zM1177 853h1v2h-1zM1178 852h1v1h-1zM1179 851h1v1h-1zM1180 850h1v1h-1zM1181 848h1v2h-1zM1182 847h1v1h-1zM1183 846h2v1h-2zM1185 845h4v1h-4zM1189 844h3v1h-3zM1192 843h1v1h-1zM1193 842h1v1h-1zM1194 841h1v1h-1zM1195 840h1v1h-1zM1196 839h1v1h-1zM1197 838h1v1h-1zM1198 837h1v1h-1zM1199 836h1v1h-1zM1200 837h2v1h-2zM1202 838h2v1h-2zM1204 839h2v1h-2zM1206 840h5v1h-5zM1211 839h6v1h-6zM1217 840h2v1h-2zM1219 841h3v1h-3zM1222 842h10v1h-10zM1232 840h1v2h-1zM1233 839h1v1h-1zM1234 838h1v1h-1zM1235 836h1v2h-1zM1236 835h1v1h-1zM1237 834h1v1h-1zM1238 832h1v2h-1zM1239 831h1v1h-1zM1240 832h1v1h-1zM1241 833h1v2h-1zM1242 835h1v1h-1zM1243 836h1v1h-1zM1244 837h1v1h-1zM1245 838h1v2h-1zM1246 840h1v1h-1zM1247 841h4v1h-4zM1251 842h5v1h-5zM1256 843h2v1h-2zM1258 844h1v1h-1zM1259 845h2v1h-2zM1261 846h2v1h-2zM1263 847h1v1h-1zM1264 846h2v1h-2zM1266 845h1v1h-1zM1267 844h2v1h-2zM1269 843h2v1h-2zM1271 842h1v2h-1zM1272 844h1v2h-1zM1273 846h1v3h-1zM1274 849h1v2h-1zM1275 851h1v3h-1zM1276 854h1v2h-1zM1277 856h1v3h-1zM1278 859h1v2h-1zM1279 861h1v2h-1zM1280 862h1v1h-1zM1281 863h4v1h-4zM1285 864h11v1h-11zM1296 863h1v1h-1zM1297 862h2v1h-2zM1299 861h1v1h-1zM1300 860h1v1h-1zM1301 859h2v1h-2zM1303 858h1v1h-1zM1304 857h2v1h-2zM1306 856h2v1h-2zM1308 855h2v1h-2zM1310 854h10v1h-10zM1320 855h2v1h-2zM1322 856h1v1h-1zM1323 857h2v1h-2zM1325 858h2v1h-2zM1327 859h2v1h-2zM1329 860h4v1h-4zM1333 861h3v1h-3zM1336 860h1v1h-1zM1337 859h2v1h-2zM1339 858h1v1h-1zM1340 857h1v1h-1zM1341 856h2v1h-2zM1343 855h9v1h-9zM1352 854h1v1h-1zM1353 852h1v2h-1zM1354 851h1v1h-1zM1355 850h1v1h-1zM1356 849h1v1h-1zM1357 847h1v2h-1zM1358 846h1v1h-1zM1359 845h4v1h-4zM1363 844h5v1h-5zM1368 845h1v1h-1zM1369 846h1v2h-1zM1370 848h1v1h-1zM1371 849h1v1h-1zM1372 850h1v1h-1zM1373 851h1v2h-1zM1374 853h1v1h-1zM1375 854h1v1h-1zM1376 853h1v1h-1zM1377 851h1v2h-1zM1378 850h1v1h-1zM1379 849h1v1h-1zM1380 848h1v1h-1zM1381 846h1v2h-1zM1382 845h1v1h-1zM1383 844h1v1h-1zM1384 845h1v1h-1zM1385 846h2v1h-2zM1387 847h1v1h-1zM1388 848h1v1h-1zM1389 849h2v1h-2zM1391 850h17v1h-17zM1408 849h2v1h-2zM1410 848h2v1h-2zM1412 847h2v1h-2zM1414 846h2v1h-2z" fill="#1e90ff"/>
</g>
<text x="3" y="767.5" font-size="9.4" fill="#000" textLength="68" lengthAdjust="spacingAndGlyphs">RSI(14) 46.7736</text>
<text x="1690.5" y="765" font-size="9.4" fill="#000" textLength="14" lengthAdjust="spacingAndGlyphs">100</text>
<text x="1690" y="794" font-size="9.4" fill="#000" textLength="9.5" lengthAdjust="spacingAndGlyphs">80</text>
<text x="1690" y="845" font-size="9.4" fill="#000" textLength="9.5" lengthAdjust="spacingAndGlyphs">50</text>
<text x="1690.5" y="906" font-size="9.4" fill="#000" textLength="9" lengthAdjust="spacingAndGlyphs">15</text>
<text x="1690" y="925" font-size="9.4" fill="#000" textLength="4.6" lengthAdjust="spacingAndGlyphs">0</text>
<rect x="1687" y="790" width="2" height="1" fill="#000" shape-rendering="crispEdges"/>
<rect x="1687" y="841" width="2" height="1" fill="#000" shape-rendering="crispEdges"/>
<rect x="1687" y="902" width="2" height="1" fill="#000" shape-rendering="crispEdges"/>
<g>
<line x1="1308" y1="732" x2="1417.1" y2="715.8" stroke="#ff0000" stroke-width="2.7"/>
<polygon points="1429,714 1417.8,720.1 1416.5,711.4" fill="#ff0000"/>
<line x1="1289.5" y1="870.5" x2="1412.1" y2="851.1" stroke="#ff0000" stroke-width="2.7"/>
<polygon points="1424,849.2 1412.8,855.4 1411.5,846.7" fill="#ff0000"/>
</g>
<rect x="-1" y="929" width="1" height="3" fill="#000" shape-rendering="crispEdges"/>
<text x="-2" y="941" font-size="9.4" fill="#000" textLength="52" lengthAdjust="spacingAndGlyphs">15 Sep 2020</text>
<rect x="63" y="929" width="1" height="3" fill="#000" shape-rendering="crispEdges"/>
<text x="62" y="941" font-size="9.4" fill="#000" textLength="52" lengthAdjust="spacingAndGlyphs">24 Sep 2020</text>
<rect x="127" y="929" width="1" height="3" fill="#000" shape-rendering="crispEdges"/>
<text x="126" y="941" font-size="9.4" fill="#000" textLength="46" lengthAdjust="spacingAndGlyphs">4 Oct 2020</text>
<rect x="191" y="929" width="1" height="3" fill="#000" shape-rendering="crispEdges"/>
<text x="190" y="941" font-size="9.4" fill="#000" textLength="52" lengthAdjust="spacingAndGlyphs">13 Oct 2020</text>
<rect x="255" y="929" width="1" height="3" fill="#000" shape-rendering="crispEdges"/>
<text x="254" y="941" font-size="9.4" fill="#000" textLength="52" lengthAdjust="spacingAndGlyphs">22 Oct 2020</text>
<rect x="319" y="929" width="1" height="3" fill="#000" shape-rendering="crispEdges"/>
<text x="318" y="941" font-size="9.4" fill="#000" textLength="46" lengthAdjust="spacingAndGlyphs">1 Nov 2020</text>
<rect x="383" y="929" width="1" height="3" fill="#000" shape-rendering="crispEdges"/>
<text x="382" y="941" font-size="9.4" fill="#000" textLength="52" lengthAdjust="spacingAndGlyphs">10 Nov 2020</text>
<rect x="447" y="929" width="1" height="3" fill="#000" shape-rendering="crispEdges"/>
<text x="446" y="941" font-size="9.4" fill="#000" textLength="52" lengthAdjust="spacingAndGlyphs">19 Nov 2020</text>
<rect x="511" y="929" width="1" height="3" fill="#000" shape-rendering="crispEdges"/>
<text x="510" y="941" font-size="9.4" fill="#000" textLength="52" lengthAdjust="spacingAndGlyphs">29 Nov 2020</text>
<rect x="575" y="929" width="1" height="3" fill="#000" shape-rendering="crispEdges"/>
<text x="574" y="941" font-size="9.4" fill="#000" textLength="46" lengthAdjust="spacingAndGlyphs">8 Dec 2020</text>
<rect x="639" y="929" width="1" height="3" fill="#000" shape-rendering="crispEdges"/>
<text x="638" y="941" font-size="9.4" fill="#000" textLength="52" lengthAdjust="spacingAndGlyphs">17 Dec 2020</text>
<rect x="703" y="929" width="1" height="3" fill="#000" shape-rendering="crispEdges"/>
<text x="702" y="941" font-size="9.4" fill="#000" textLength="52" lengthAdjust="spacingAndGlyphs">28 Dec 2020</text>
<rect x="767" y="929" width="1" height="3" fill="#000" shape-rendering="crispEdges"/>
<text x="766" y="941" font-size="9.4" fill="#000" textLength="46" lengthAdjust="spacingAndGlyphs">7 Jan 2021</text>
<rect x="831" y="929" width="1" height="3" fill="#000" shape-rendering="crispEdges"/>
<text x="830" y="941" font-size="9.4" fill="#000" textLength="52" lengthAdjust="spacingAndGlyphs">17 Jan 2021</text>
<rect x="895" y="929" width="1" height="3" fill="#000" shape-rendering="crispEdges"/>
<text x="894" y="941" font-size="9.4" fill="#000" textLength="52" lengthAdjust="spacingAndGlyphs">26 Jan 2021</text>
<rect x="959" y="929" width="1" height="3" fill="#000" shape-rendering="crispEdges"/>
<text x="958" y="941" font-size="9.4" fill="#000" textLength="46" lengthAdjust="spacingAndGlyphs">4 Feb 2021</text>
<rect x="1023" y="929" width="1" height="3" fill="#000" shape-rendering="crispEdges"/>
<text x="1022" y="941" font-size="9.4" fill="#000" textLength="52" lengthAdjust="spacingAndGlyphs">14 Feb 2021</text>
<rect x="1087" y="929" width="1" height="3" fill="#000" shape-rendering="crispEdges"/>
<text x="1086" y="941" font-size="9.4" fill="#000" textLength="52" lengthAdjust="spacingAndGlyphs">23 Feb 2021</text>
<rect x="1151" y="929" width="1" height="3" fill="#000" shape-rendering="crispEdges"/>
<text x="1150" y="941" font-size="9.4" fill="#000" textLength="46" lengthAdjust="spacingAndGlyphs">4 Mar 2021</text>
<rect x="1215" y="929" width="1" height="3" fill="#000" shape-rendering="crispEdges"/>
<text x="1214" y="941" font-size="9.4" fill="#000" textLength="52" lengthAdjust="spacingAndGlyphs">14 Mar 2021</text>
<rect x="1279" y="929" width="1" height="3" fill="#000" shape-rendering="crispEdges"/>
<text x="1278" y="941" font-size="9.4" fill="#000" textLength="52" lengthAdjust="spacingAndGlyphs">23 Mar 2021</text>
<rect x="1343" y="929" width="1" height="3" fill="#000" shape-rendering="crispEdges"/>
<text x="1342" y="941" font-size="9.4" fill="#000" textLength="46" lengthAdjust="spacingAndGlyphs">1 Apr 2021</text>
<rect x="1407" y="929" width="1" height="3" fill="#000" shape-rendering="crispEdges"/>
<text x="1406" y="941" font-size="9.4" fill="#000" textLength="52" lengthAdjust="spacingAndGlyphs">12 Apr 2021</text>
<polygon points="2,38 9.5,38 5.75,33.5" fill="#000"/>
<text x="14.5" y="38.7" font-size="9.4" fill="#000" textLength="68" lengthAdjust="spacingAndGlyphs">AUDUSD-,Daily</text>
<text x="89" y="38.7" font-size="9.4" fill="#000" textLength="141" lengthAdjust="spacingAndGlyphs">0.76261 0.76476 0.75842 0.76377</text>
<polygon points="1427,28 1436,28 1431.5,33" fill="#c0c0c0"/>
<rect x="1732" y="23" width="1" height="920" fill="#f0f0f0"/>
<g id="tb">
<rect x="0" y="0" width="1733" height="22" fill="#f0f0f0"/>
<g shape-rendering="crispEdges"><rect x="0" y="22" width="1733" height="1" fill="#dadada"/><rect x="0" y="23" width="1733" height="1" fill="#a0a0a0"/><rect x="0" y="24" width="1733" height="1" fill="#696969"/><rect x="0" y="25" width="1733" height="2" fill="#fff"/></g>
<rect x="323" y="0" width="23" height="21" fill="#f9f9f9"/>
<rect x="474" y="0" width="25" height="21" fill="#f9f9f9"/>
<rect x="502" y="0" width="25" height="21" fill="#f9f9f9"/>
<rect x="662" y="0" width="24" height="21" fill="#f9f9f9"/>
<rect x="1136" y="0" width="24" height="21" fill="#f9f9f9"/>
<g shape-rendering="crispEdges">
<rect x="47" y="0" width="1" height="21" fill="#8e8e8e"/>
<rect x="321" y="0" width="1" height="21" fill="#8e8e8e"/>
<rect x="378" y="0" width="1" height="21" fill="#8e8e8e"/>
<rect x="468" y="0" width="1" height="21" fill="#8e8e8e"/>
<rect x="473" y="0" width="1" height="21" fill="#8e8e8e"/>
<rect x="501" y="0" width="1" height="21" fill="#8e8e8e"/>
<rect x="530" y="0" width="1" height="21" fill="#8e8e8e"/>
<rect x="661" y="0" width="1" height="21" fill="#8e8e8e"/>
<rect x="718" y="0" width="1" height="21" fill="#8e8e8e"/>
<rect x="1135" y="0" width="1" height="21" fill="#8e8e8e"/>
<rect x="283" y="0" width="1" height="22" fill="#7a7a7a"/><rect x="284" y="0" width="1" height="22" fill="#fbfbfb"/>
<rect x="651" y="0" width="1" height="22" fill="#7a7a7a"/><rect x="652" y="0" width="1" height="22" fill="#fbfbfb"/>
<rect x="957" y="0" width="1" height="22" fill="#7a7a7a"/><rect x="958" y="0" width="1" height="22" fill="#fbfbfb"/>
<rect x="1218" y="0" width="1" height="22" fill="#7a7a7a"/><rect x="1219" y="0" width="1" height="22" fill="#fbfbfb"/>
<rect x="287" y="2" width="3" height="1" fill="#a8a8a8"/>
<rect x="287" y="4" width="3" height="1" fill="#a8a8a8"/>
<rect x="287" y="6" width="3" height="1" fill="#a8a8a8"/>
<rect x="287" y="8" width="3" height="1" fill="#a8a8a8"/>
<rect x="287" y="10" width="3" height="1" fill="#a8a8a8"/>
<rect x="287" y="12" width="3" height="1" fill="#a8a8a8"/>
<rect x="287" y="14" width="3" height="1" fill="#a8a8a8"/>
<rect x="287" y="16" width="3" height="1" fill="#a8a8a8"/>
<rect x="287" y="18" width="3" height="1" fill="#a8a8a8"/>
<rect x="287" y="20" width="3" height="1" fill="#a8a8a8"/>
<rect x="655" y="2" width="3" height="1" fill="#a8a8a8"/>
<rect x="655" y="4" width="3" height="1" fill="#a8a8a8"/>
<rect x="655" y="6" width="3" height="1" fill="#a8a8a8"/>
<rect x="655" y="8" width="3" height="1" fill="#a8a8a8"/>
<rect x="655" y="10" width="3" height="1" fill="#a8a8a8"/>
<rect x="655" y="12" width="3" height="1" fill="#a8a8a8"/>
<rect x="655" y="14" width="3" height="1" fill="#a8a8a8"/>
<rect x="655" y="16" width="3" height="1" fill="#a8a8a8"/>
<rect x="655" y="18" width="3" height="1" fill="#a8a8a8"/>
<rect x="655" y="20" width="3" height="1" fill="#a8a8a8"/>
<rect x="961" y="2" width="3" height="1" fill="#a8a8a8"/>
<rect x="961" y="4" width="3" height="1" fill="#a8a8a8"/>
<rect x="961" y="6" width="3" height="1" fill="#a8a8a8"/>
<rect x="961" y="8" width="3" height="1" fill="#a8a8a8"/>
<rect x="961" y="10" width="3" height="1" fill="#a8a8a8"/>
<rect x="961" y="12" width="3" height="1" fill="#a8a8a8"/>
<rect x="961" y="14" width="3" height="1" fill="#a8a8a8"/>
<rect x="961" y="16" width="3" height="1" fill="#a8a8a8"/>
<rect x="961" y="18" width="3" height="1" fill="#a8a8a8"/>
<rect x="961" y="20" width="3" height="1" fill="#a8a8a8"/>
</g>
<rect x="-3" y="4.5" width="12" height="13" fill="#fff" stroke="#3c78c0" stroke-width="1.4"/>
<line x1="0" y1="7.5" x2="8" y2="7.5" stroke="#b4ccf0" stroke-width="1"/>
<line x1="0" y1="9.5" x2="8" y2="9.5" stroke="#b4ccf0" stroke-width="1"/>
<line x1="0" y1="11.5" x2="8" y2="11.5" stroke="#b4ccf0" stroke-width="1"/>
<line x1="0" y1="13.5" x2="8" y2="13.5" stroke="#b4ccf0" stroke-width="1"/>
<rect x="22.5" y="3.5" width="12" height="12.5" fill="#fff" stroke="#b0a890" stroke-width="1"/>
<path d="M25 7h2m-1 -2v7M29 8h3m-1.500 -3v8" stroke="#707070" stroke-width="1" fill="none"/>
<line x1="34" y1="15.500" x2="38.500" y2="19.500" stroke="#c8a020" stroke-width="2.400" stroke-linecap="round"/>
<circle cx="30.500" cy="11.500" r="4.800" fill="#d8ecfa" fill-opacity="0.85" stroke="#5088d0" stroke-width="1.200"/>
<path d="M57.500 4.500h8l3.500 3.500v8.500h-11.500z" fill="#fff" stroke="#606060" stroke-width="1"/>
<path d="M65.500 4.500v3.500h3.500" fill="none" stroke="#606060"/>
<path d="M59.500 7.500h3M59.500 10.500h5M59.500 13.500h3" stroke="#888" stroke-width="1.2"/>
<path d="M65.500 9.500h3v4h4v3h-4v4h-3v-4h-4v-3h4z" fill="#22cc22" stroke="#0a8a0a" stroke-width="1"/>
<text x="76" y="14.3" font-size="11.7" fill="#000" font-family="'Liberation Sans','Noto Sans CJK SC',sans-serif" textLength="35.5" lengthAdjust="spacingAndGlyphs">新订单</text>
<defs><linearGradient id="bk" x1="0" y1="0" x2="1" y2="1"><stop offset="0" stop-color="#d8a018"/><stop offset="0.45" stop-color="#fbe478"/><stop offset="1" stop-color="#d09818"/></linearGradient></defs>
<path d="M124.300 13.800 L128.600 4.600 Q129.200 4 130 4.500 L139.600 11 Q140.200 11.600 139.700 12.300 L134 19 Q133.200 19.600 132.300 19 Z" fill="#a86c10"/>
<path d="M124.600 13 L128.700 4.800 L139.300 11.200 L134 17.600 Q133.200 18.200 132.300 17.600 Z" fill="url(#bk)"/>
<path d="M155 4.500l4 -1.500l6 1.500v8.500h-10z" fill="#2f96f4" stroke="#1c70cc" stroke-width="0.800"/>
<path d="M159 3v10" stroke="#8cc8ff" stroke-width="0.800"/><path d="M160.500 7h4v1.500h-4z" fill="#d8ecff"/>
<path d="M155 18.500A2.700 2.700 0 0 1 154.600 13.200A3.400 3.400 0 0 1 161 12.600A2.800 2.800 0 0 1 165.800 14A2.300 2.300 0 0 1 165.500 18.500Z" fill="#eef3fa" stroke="#6c90c8" stroke-width="1"/>
<path d="M188 3a8 8 0 0 1 0 16z" fill="#cfe8cf"/><path d="M188 3a8 8 0 0 1 0 16" fill="none" stroke="#70b870" stroke-width="1.100"/><path d="M188 6a5 5 0 0 1 0 10" fill="none" stroke="#8cc88c" stroke-width="1.100"/>
<path d="M188 3a8 8 0 0 0 -4.500 14.600" fill="none" stroke="#88aee8" stroke-width="1.100"/><path d="M188 5.700a5.300 5.300 0 0 0 -3 9.700" fill="none" stroke="#6c98e4" stroke-width="1.100"/><path d="M188 8a3 3 0 0 0 -1.500 5.500" fill="none" stroke="#88aee8" stroke-width="1"/>
<circle cx="188" cy="10.500" r="1.900" fill="#2860d0"/><rect x="187.400" y="11" width="1.600" height="8" fill="#20a020"/>
<path d="M209.500 9.500h12l-2 5l-6 4.500z" fill="#f4dc50" stroke="#c8a820" stroke-width="0.800"/>
<ellipse cx="215" cy="8" rx="8" ry="2.600" fill="#58a8e8" stroke="#3880c8" stroke-width="0.800"/><path d="M211 7.500a4 4.500 0 0 1 8 0z" fill="#68b8f0" stroke="#3880c8" stroke-width="0.800"/>
<circle cx="219.500" cy="14.800" r="4.200" fill="#d82818"/><rect x="217.700" y="13" width="3.600" height="3.600" fill="#fff"/>
<text x="230.5" y="14.3" font-size="11.3" fill="#000" font-family="'Liberation Sans','Noto Sans CJK SC',sans-serif" textLength="44.5" lengthAdjust="spacingAndGlyphs">自动交易</text>
<path d="M301.5 5.500v13M298.5 16.500h13" stroke="#505050" stroke-width="1.200" fill="none"/>
<path d="M299.5 7.500l2 -2.500l2 2.500zM310 14.500l2.500 2l-2.500 2z" fill="#505050"/>
<path d="M308.500 6.500v8M308.500 7.500h2.500M306 13.500h2.500" stroke="#108010" stroke-width="1.300" fill="none"/>
<path d="M329.5 5.500v13M326.5 16.500h13" stroke="#505050" stroke-width="1.200" fill="none"/>
<path d="M327.5 7.500l2 -2.500l2 2.500zM338 14.500l2.500 2l-2.500 2z" fill="#505050"/>
<rect x="335" y="3" width="1.200" height="12" fill="#108010"/><rect x="333.500" y="5.500" width="4.500" height="7.500" fill="#20d020" stroke="#108010" stroke-width="1"/>
<path d="M357.5 5.500v13M354.5 16.500h13" stroke="#505050" stroke-width="1.200" fill="none"/>
<path d="M355.5 7.500l2 -2.500l2 2.500zM366 14.500l2.500 2l-2.500 2z" fill="#505050"/>
<path d="M356 14c3 -2 4 -6 6.500 -6s3 2.500 6 4" stroke="#309030" stroke-width="1.300" fill="none"/>
<line x1="397" y1="13.500" x2="402" y2="18" stroke="#d0a828" stroke-width="2.600" stroke-linecap="round"/>
<circle cx="393" cy="9" r="5.500" fill="#dcecfa" stroke="#3c78d0" stroke-width="1.300"/>
<path d="M390 9h6M393 6v6" stroke="#3c78c8" stroke-width="1.600" fill="none"/>
<line x1="425" y1="13.500" x2="430" y2="18" stroke="#d0a828" stroke-width="2.600" stroke-linecap="round"/>
<circle cx="421" cy="9" r="5.500" fill="#dcecfa" stroke="#3c78d0" stroke-width="1.300"/>
<path d="M418 9h6" stroke="#3c78c8" stroke-width="1.600" fill="none"/>
<rect x="443" y="3" width="8.5" height="8.5" fill="#3ca020"/><rect x="444.5" y="6.5" width="5.5" height="3.3" fill="#f0f6ff"/>
<rect x="451.5" y="3" width="8.5" height="8.5" fill="#2058d8"/><rect x="453.0" y="6.5" width="5.5" height="3.3" fill="#f0f6ff"/>
<rect x="443" y="11.5" width="8.5" height="8.5" fill="#2058d8"/><rect x="444.5" y="15.0" width="5.5" height="3.3" fill="#f0f6ff"/>
<rect x="451.5" y="11.5" width="8.5" height="8.5" fill="#3ca020"/><rect x="453.0" y="15.0" width="5.5" height="3.3" fill="#f0f6ff"/>
<path d="M481.5 5.500v13M478.5 16.500h13" stroke="#505050" stroke-width="1.200" fill="none"/>
<path d="M479.5 7.500l2 -2.500l2 2.500zM490 14.500l2.500 2l-2.500 2z" fill="#505050"/>
<path d="M486 6.500v7.500l4.500 -3.750z" fill="#30b030" stroke="#108010" stroke-width="0.800"/>
<path d="M509.5 5.500v13M506.5 16.500h13" stroke="#505050" stroke-width="1.200" fill="none"/>
<path d="M507.5 7.500l2 -2.500l2 2.500zM518 14.500l2.500 2l-2.500 2z" fill="#505050"/>
<rect x="515" y="5" width="1.300" height="10.500" fill="#1868b0"/><path d="M517 10.500l3 -2.500v2h2v1h-2v2z" fill="#e04810"/>
<path d="M540.500 3.500h7.500l3.500 3.500v9h-11z" fill="#fff" stroke="#606060" stroke-width="1"/>
<path d="M543 7v7M543 8h2M541.500 11h1.500" stroke="#707070" stroke-width="0.900" fill="none"/>
<path d="M549 9.500h3v4h4v3h-4v4h-3v-4h-4v-3h4z" fill="#22cc22" stroke="#0a8a0a" stroke-width="1"/>
<path d="M561.5 10h6l-3 3.500z" fill="#000"/>
<circle cx="586" cy="11" r="7" fill="#fff" stroke="#1c68d8" stroke-width="2.600"/><path d="M586 6.500v4.500h3.500" stroke="#404040" stroke-width="1.200" fill="none"/>
<path d="M600.5 10h6l-3 3.500z" fill="#000"/>
<rect x="617.500" y="4.500" width="15" height="13" fill="#fff" stroke="#3c78d0" stroke-width="1"/><rect x="617.500" y="4.500" width="15" height="2.500" fill="#5a96e0"/><line x1="618" y1="12" x2="632" y2="12" stroke="#3c78d0" stroke-width="0.800"/>
<path d="M619.500 10.500l3 -1.500l3 .5l3 -1l2.500 0" stroke="#a02010" stroke-width="1.400" fill="none"/><path d="M619.500 15.500l3 -1l3 .5l2.500 -2l2.500 2" stroke="#209030" stroke-width="1.400" fill="none"/>
<path d="M639.500 10h6l-3 3.500z" fill="#000"/>
<path d="M669 4v11.800l3 -2.600l2.300 5l2 -1l-2.300 -4.800l4 -.4z" fill="#484848"/>
<path d="M694 11.500h6M703 11.500h6M701.500 4v6M701.500 13v6" stroke="#484848" stroke-width="1.200" fill="none"/>
<path d="M735.500 5v13M758 11.500h12" stroke="#484848" stroke-width="1.300" fill="none"/>
<path d="M786 18l12 -12" stroke="#484848" stroke-width="1.300" fill="none"/>
<path d="M812 13l9 -9M814 17.500l11 -11M815 8.500l-1 9M819 5l-1.500 12M823 3l-1.500 10" stroke="#484848" stroke-width="1.100" fill="none"/>
<text x="822.500" y="20" font-size="7" font-weight="bold" fill="#303030">E</text>
<line x1="841" y1="4" x2="854" y2="4" stroke="#484848" stroke-width="1" stroke-dasharray="1,1"/>
<line x1="841" y1="7.5" x2="854" y2="7.5" stroke="#484848" stroke-width="1" stroke-dasharray="1,1"/>
<line x1="841" y1="11.5" x2="854" y2="11.5" stroke="#484848" stroke-width="1" stroke-dasharray="1,1"/>
<line x1="841" y1="15.5" x2="850" y2="15.5" stroke="#484848" stroke-width="1" stroke-dasharray="1,1"/>
<text x="850.500" y="20" font-size="7" font-weight="bold" fill="#303030">F</text>
<text x="871.500" y="16" font-size="12.500" font-weight="bold" fill="#484848">A</text>
<rect x="898.500" y="5.500" width="11" height="12" fill="none" stroke="#484848" stroke-width="1" stroke-dasharray="1,1"/><text x="900.500" y="16" font-size="11" font-weight="bold" fill="#484848">T</text>
<path d="M925.500 8l3 -3l3 3l-3 2.500zM932.500 15.500l3 -2.500l3 2.500l-3 3z" fill="#484848"/><path d="M927.500 12l2 2.500l4.500 -5.500" stroke="#484848" stroke-width="1.400" fill="none"/>
<path d="M945.5 10h6l-3 3.500z" fill="#000"/>
<text x="972.5" y="15" font-size="10" fill="#3a3a3a" textLength="12.5" lengthAdjust="spacingAndGlyphs">M1</text>
<text x="1001" y="15" font-size="10" fill="#3a3a3a" textLength="12" lengthAdjust="spacingAndGlyphs">M5</text>
<text x="1027" y="15" font-size="10" fill="#3a3a3a" textLength="17.5" lengthAdjust="spacingAndGlyphs">M15</text>
<text x="1054.5" y="15" font-size="10" fill="#3a3a3a" textLength="17.5" lengthAdjust="spacingAndGlyphs">M30</text>
<text x="1085.5" y="15" font-size="10" fill="#3a3a3a" textLength="11.5" lengthAdjust="spacingAndGlyphs">H1</text>
<text x="1112.5" y="15" font-size="10" fill="#3a3a3a" textLength="12.5" lengthAdjust="spacingAndGlyphs">H4</text>
<text x="1141.5" y="15" font-size="10" fill="#3a3a3a" textLength="11.5" lengthAdjust="spacingAndGlyphs">D1</text>
<text x="1169" y="15" font-size="10" fill="#3a3a3a" textLength="14" lengthAdjust="spacingAndGlyphs">W1</text>
<text x="1195.5" y="15" font-size="10" fill="#3a3a3a" textLength="15" lengthAdjust="spacingAndGlyphs">MN</text>
<line x1="1685.500" y1="11.500" x2="1681.500" y2="15.500" stroke="#2050d0" stroke-width="2.600" stroke-linecap="round"/><circle cx="1688.600" cy="8.400" r="4" fill="#fbfbff" stroke="#2858e0" stroke-width="1.300"/>
<path d="M1705 13a6 5 0 1 1 6 5.500l-2.500 0l-1 1.800l-.3 -2.300a6 5 0 0 1 -2.200 -5z" fill="#e4e4ee" stroke="#b0b0b8" stroke-width="0.800"/>
<circle cx="1719.400" cy="8.200" r="8.300" fill="#e03a22"/><text x="1719.400" y="13" font-size="12.500" font-weight="bold" fill="#fff" text-anchor="middle">1</text>
</g>
<defs><linearGradient id="bg" x1="0" y1="0" x2="0" y2="1"><stop offset="0" stop-color="#5a5afa"/><stop offset="0.35" stop-color="#3c3ce6"/><stop offset="1" stop-color="#0000b0"/></linearGradient><linearGradient id="sb" x1="0" y1="0" x2="0" y2="1"><stop offset="0" stop-color="#f6f6f6"/><stop offset="0.5" stop-color="#ececec"/><stop offset="0.5" stop-color="#dedede"/><stop offset="1" stop-color="#d2d2d2"/></linearGradient></defs>
<g id="pn">
<rect x="2" y="47" width="219" height="64" fill="url(#bg)"/>
<rect x="111" y="71" width="2" height="41" fill="#fff"/>
<rect x="54" y="46" width="115" height="25" fill="#fff"/>
<g shape-rendering="crispEdges"><rect x="6" y="70" width="44" height="1" fill="#8c8cf6"/><rect x="173" y="70" width="44" height="1" fill="#8c8cf6"/></g>
<rect x="56.500" y="47.500" width="110" height="21" fill="#fff" stroke="#a8a8b0" stroke-width="1"/>
<rect x="57.500" y="48.500" width="19" height="19" fill="url(#sb)" stroke="#c0c0c0" stroke-width="0.600"/><rect x="146.500" y="48.500" width="19" height="19" fill="url(#sb)" stroke="#c0c0c0" stroke-width="0.600"/>
<path d="M64 56.500h5l-2.500 3z" fill="#4860a8"/><path d="M153 59h5l-2.500 -3z" fill="#4860a8"/>
<text x="141.500" y="62" font-size="11.500" fill="#000" text-anchor="end" textLength="23" lengthAdjust="spacingAndGlyphs">1.00</text>
<text x="14.300" y="62.200" font-size="11.800" fill="#fff" textLength="25.500" lengthAdjust="spacingAndGlyphs">SELL</text>
<text x="183" y="62.200" font-size="11.800" fill="#fff" textLength="22.700" lengthAdjust="spacingAndGlyphs">BUY</text>
<text x="21.600" y="101" font-size="10.500" font-weight="bold" fill="#fff" textLength="24.500" lengthAdjust="spacingAndGlyphs">0.76</text>
<text x="132" y="101" font-size="10.500" font-weight="bold" fill="#fff" textLength="24" lengthAdjust="spacingAndGlyphs">0.76</text>
<text x="49.500" y="101.700" font-size="33" fill="#fff" textLength="33.500" lengthAdjust="spacingAndGlyphs">37</text>
<text x="159.500" y="101.700" font-size="33" fill="#fff" textLength="33" lengthAdjust="spacingAndGlyphs">43</text>
<text x="89" y="85.800" font-size="12" fill="#fff">7</text>
<text x="200.300" y="85.800" font-size="12" fill="#fff">8</text>
</g>
</svg>
<!--TOOLBAR-->
<!--PANEL-->
</body></html>
